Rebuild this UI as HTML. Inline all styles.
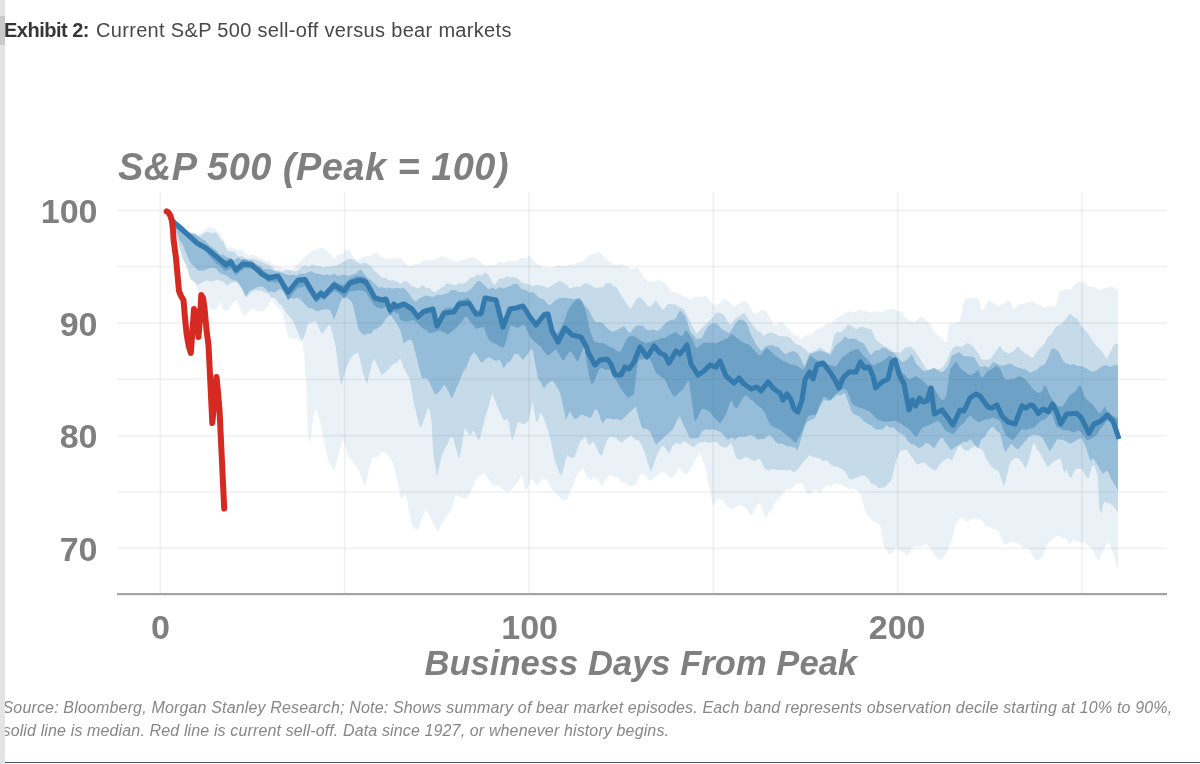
<!DOCTYPE html>
<html><head><meta charset="utf-8"><title>Exhibit 2</title>
<style>
html,body{margin:0;padding:0;background:#fff;}
body{width:1200px;height:764px;position:relative;overflow:hidden;font-family:"Liberation Sans",sans-serif;}
.abs{position:absolute;white-space:pre;line-height:1;}
#strip{z-index:5;position:absolute;left:0;top:0;width:4.5px;height:764px;background:#e3e4e4;}
#strip2{z-index:6;position:absolute;left:0;top:16px;width:4.5px;height:29px;background:#c9cacb;}
#bottom{position:absolute;left:4.5px;top:761.7px;width:1196px;height:1.3px;background:#4a5964;}
#chart{position:absolute;left:0;top:0;}
.hd{font-size:20px;top:20.2px;filter:blur(0.35px);}
.ax{font-weight:bold;font-size:34px;color:#7f7f7f;filter:blur(0.5px);}
.yl{width:97.5px;left:0;text-align:right;}
.ft{font-style:italic;font-size:16px;color:#878787;left:2.5px;letter-spacing:0.16px;filter:blur(0.35px);}
</style></head><body>
<div id="strip"></div><div id="strip2"></div>
<div class="abs hd" style="left:4px;font-weight:bold;color:#363636;letter-spacing:-0.5px;">Exhibit 2:</div>
<div class="abs hd" style="left:96px;color:#484848;letter-spacing:0.32px;">Current S&amp;P 500 sell-off versus bear markets</div>
<svg id="chart" width="1200" height="764" viewBox="0 0 1200 764">
<defs><filter id="soft" x="-2%" y="-2%" width="104%" height="104%"><feGaussianBlur stdDeviation="0.7"/></filter></defs>
<g filter="url(#soft)">
<path d="M172.0 220.1 L173.9 218.6 L175.7 220.5 L177.6 221.9 L179.4 222.9 L181.2 224.1 L183.1 225.5 L184.9 227.7 L186.8 230.0 L188.6 231.2 L190.4 232.2 L192.3 232.5 L194.1 232.7 L196.0 233.8 L197.8 234.5 L199.6 233.8 L201.5 232.9 L203.3 231.2 L205.2 229.8 L207.0 228.5 L208.8 227.5 L210.7 227.6 L212.5 227.7 L214.4 228.4 L216.2 230.5 L218.0 231.2 L219.9 232.7 L221.7 236.4 L223.6 240.1 L225.4 244.1 L227.2 248.0 L229.1 248.0 L230.9 246.7 L232.8 247.8 L234.6 248.9 L236.4 249.6 L238.3 250.3 L240.1 249.4 L242.0 249.8 L243.8 251.8 L245.6 253.9 L247.5 255.0 L249.3 256.0 L251.2 255.2 L253.0 254.3 L254.8 255.3 L256.7 256.4 L258.5 257.1 L260.4 258.0 L262.2 259.0 L264.0 259.9 L265.9 260.6 L267.7 261.4 L269.6 262.1 L271.4 262.7 L273.2 264.0 L275.1 265.3 L276.9 265.8 L278.8 266.4 L280.6 267.3 L282.4 268.3 L284.3 268.8 L286.1 268.9 L288.0 269.4 L289.8 269.4 L291.6 269.9 L293.5 268.5 L295.3 266.6 L297.2 264.2 L299.0 262.8 L300.8 261.4 L302.7 259.1 L304.5 256.9 L306.4 255.7 L308.2 254.5 L310.0 252.9 L311.9 251.2 L313.7 250.2 L315.6 250.2 L317.4 249.4 L319.2 248.5 L321.1 248.3 L322.9 248.1 L324.8 249.0 L326.6 251.3 L328.4 252.7 L330.3 254.0 L332.1 256.6 L334.0 259.3 L335.8 257.0 L337.6 254.6 L339.5 254.4 L341.3 254.1 L343.2 252.4 L345.0 250.7 L346.8 249.5 L348.7 249.7 L350.5 252.6 L352.4 255.4 L354.2 257.8 L356.0 260.1 L357.9 259.5 L359.7 259.0 L361.6 258.0 L363.4 256.9 L365.2 256.7 L367.1 256.0 L368.9 255.9 L370.8 255.8 L372.6 254.4 L374.4 253.0 L376.3 252.5 L378.1 254.0 L380.0 255.7 L381.8 257.3 L383.6 258.1 L385.5 258.9 L387.3 259.1 L389.2 258.4 L391.0 258.5 L392.8 258.6 L394.7 258.7 L396.5 258.9 L398.4 258.0 L400.2 257.3 L402.0 259.7 L403.9 262.2 L405.7 263.5 L407.6 264.7 L409.4 265.8 L411.2 265.8 L413.1 264.8 L414.9 263.8 L416.8 263.9 L418.6 264.1 L420.4 262.5 L422.3 260.9 L424.1 260.8 L426.0 260.6 L427.8 260.4 L429.6 260.3 L431.5 260.3 L433.3 260.3 L435.2 259.4 L437.0 258.6 L438.8 257.6 L440.7 256.6 L442.5 256.5 L444.4 256.7 L446.2 257.6 L448.0 258.5 L449.9 259.3 L451.7 260.2 L453.6 260.9 L455.4 261.6 L457.2 261.8 L459.1 261.4 L460.9 260.6 L462.8 259.9 L464.6 259.6 L466.4 259.3 L468.3 258.5 L470.1 257.8 L472.0 256.5 L473.8 257.2 L475.6 258.3 L477.5 259.4 L479.3 261.1 L481.2 262.8 L483.0 264.1 L484.8 265.5 L486.7 265.8 L488.5 265.1 L490.4 265.0 L492.2 264.9 L494.0 264.8 L495.9 264.8 L497.7 263.0 L499.6 261.3 L501.4 262.3 L503.2 263.3 L505.1 262.1 L506.9 260.8 L508.8 260.8 L510.6 260.8 L512.4 260.9 L514.3 261.1 L516.1 260.6 L518.0 260.1 L519.8 258.8 L521.6 257.5 L523.5 258.0 L525.3 258.4 L527.2 257.1 L529.0 255.8 L530.8 256.8 L532.7 258.8 L534.5 261.0 L536.4 263.3 L538.2 264.2 L540.0 265.1 L541.9 266.9 L543.7 267.3 L545.6 267.4 L547.4 267.5 L549.2 267.6 L551.1 267.7 L552.9 267.5 L554.8 267.4 L556.6 266.1 L558.4 264.8 L560.3 265.4 L562.1 266.0 L564.0 266.0 L565.8 266.0 L567.6 265.3 L569.5 264.6 L571.3 264.7 L573.2 264.6 L575.0 263.7 L576.8 262.9 L578.7 262.4 L580.5 261.8 L582.4 261.1 L584.2 260.3 L586.0 258.1 L587.9 255.9 L589.7 255.1 L591.6 254.4 L593.4 254.1 L595.2 253.9 L597.1 252.1 L598.9 251.7 L600.8 253.5 L602.6 255.3 L604.4 257.6 L606.3 259.8 L608.1 260.9 L610.0 261.9 L611.8 263.3 L613.6 264.6 L615.5 265.1 L617.3 265.6 L619.2 264.7 L621.0 263.7 L622.8 264.9 L624.7 266.0 L626.5 266.8 L628.4 267.6 L630.2 268.3 L632.0 269.0 L633.9 268.4 L635.7 267.7 L637.6 268.0 L639.4 269.6 L641.2 272.9 L643.1 276.1 L644.9 278.3 L646.8 280.5 L648.6 281.5 L650.4 281.9 L652.3 281.5 L654.1 281.2 L656.0 280.9 L657.8 280.6 L659.6 280.0 L661.5 281.6 L663.3 282.3 L665.2 283.1 L667.0 285.7 L668.8 288.4 L670.7 290.2 L672.5 291.7 L674.4 292.5 L676.2 293.3 L678.0 293.9 L679.9 294.5 L681.7 295.5 L683.6 295.9 L685.4 296.8 L687.2 297.6 L689.1 298.9 L690.9 299.9 L692.8 298.4 L694.6 297.0 L696.4 296.7 L698.3 296.4 L700.1 296.7 L702.0 297.1 L703.8 296.4 L705.6 295.6 L707.5 297.6 L709.3 300.0 L711.2 302.1 L713.0 304.2 L714.8 305.6 L716.7 304.9 L718.5 303.7 L720.4 302.5 L722.2 300.6 L724.0 298.8 L725.9 299.8 L727.7 300.8 L729.6 302.6 L731.4 304.4 L733.2 306.3 L735.1 306.3 L736.9 305.3 L738.8 304.2 L740.6 302.6 L742.4 301.1 L744.3 301.0 L746.1 302.1 L748.0 304.1 L749.8 306.1 L751.6 309.7 L753.5 313.4 L755.3 313.8 L757.2 313.3 L759.0 311.9 L760.8 310.6 L762.7 310.5 L764.5 310.4 L766.4 310.7 L768.2 314.6 L770.0 317.8 L771.9 321.1 L773.7 325.2 L775.6 325.8 L777.4 324.0 L779.2 322.2 L781.1 322.1 L782.9 323.2 L784.8 325.0 L786.6 326.9 L788.4 328.5 L790.3 330.0 L792.1 332.7 L794.0 335.5 L795.8 335.5 L797.6 335.6 L799.5 338.1 L801.3 339.0 L803.2 337.3 L805.0 335.6 L806.8 335.4 L808.7 335.1 L810.5 334.3 L812.4 333.2 L814.2 331.6 L816.0 330.0 L817.9 329.3 L819.7 328.6 L821.6 327.4 L823.4 326.4 L825.2 325.1 L827.1 323.9 L828.9 323.6 L830.8 323.4 L832.6 321.5 L834.4 319.6 L836.3 318.4 L838.1 317.3 L840.0 316.3 L841.8 315.3 L843.6 314.1 L845.5 313.0 L847.3 312.0 L849.2 311.3 L851.0 311.9 L852.8 312.6 L854.7 312.0 L856.5 311.4 L858.4 310.0 L860.2 309.3 L862.0 310.2 L863.9 311.1 L865.7 311.3 L867.6 311.5 L869.4 312.3 L871.2 312.6 L873.1 312.1 L874.9 311.5 L876.8 311.5 L878.6 311.6 L880.4 311.9 L882.3 312.3 L884.1 311.0 L886.0 309.6 L887.8 309.6 L889.6 309.6 L891.5 309.0 L893.3 308.5 L895.2 309.4 L897.0 310.9 L898.8 311.1 L900.7 311.3 L902.5 313.7 L904.4 316.1 L906.2 317.9 L908.0 319.7 L909.9 320.6 L911.7 321.5 L913.6 322.5 L915.4 320.9 L917.2 319.7 L919.1 318.5 L920.9 316.7 L922.8 316.6 L924.6 318.8 L926.4 321.1 L928.3 322.5 L930.1 324.0 L932.0 327.5 L933.8 330.9 L935.6 333.1 L937.5 335.2 L939.3 336.5 L941.2 337.8 L943.0 339.8 L944.8 341.6 L946.7 342.2 L948.5 326.3 L950.4 322.8 L952.2 324.0 L954.0 323.4 L955.9 322.8 L957.7 322.1 L959.6 321.5 L961.4 313.9 L963.2 304.0 L965.1 298.8 L966.9 297.8 L968.8 297.9 L970.6 297.9 L972.4 297.7 L974.3 297.5 L976.1 297.9 L978.0 298.4 L979.8 301.5 L981.6 309.9 L983.5 309.8 L985.3 307.1 L987.2 302.4 L989.0 300.6 L990.8 301.8 L992.7 303.1 L994.5 303.8 L996.4 304.6 L998.2 306.5 L1000.0 306.0 L1001.9 304.7 L1003.7 303.4 L1005.6 301.7 L1007.4 299.9 L1009.2 300.9 L1011.1 303.3 L1012.9 307.2 L1014.8 309.3 L1016.6 306.9 L1018.4 304.5 L1020.3 304.2 L1022.1 304.0 L1024.0 303.5 L1025.8 302.9 L1027.6 302.3 L1029.5 301.7 L1031.3 301.9 L1033.2 302.1 L1035.0 302.9 L1036.8 304.2 L1038.7 304.7 L1040.5 305.3 L1042.4 307.1 L1044.2 307.8 L1046.0 306.9 L1047.9 305.9 L1049.7 306.4 L1051.6 306.9 L1053.4 306.5 L1055.2 306.2 L1057.1 301.1 L1058.9 293.5 L1060.8 290.4 L1062.6 290.9 L1064.4 290.0 L1066.3 289.1 L1068.1 289.5 L1070.0 289.8 L1071.8 287.9 L1073.6 285.9 L1075.5 284.1 L1077.3 282.3 L1079.2 281.3 L1081.0 282.0 L1082.8 282.1 L1084.7 282.1 L1086.5 284.3 L1088.4 286.3 L1090.2 286.5 L1092.0 286.8 L1093.9 286.9 L1095.7 287.1 L1097.6 288.8 L1099.4 290.6 L1101.2 289.9 L1103.1 288.7 L1104.9 288.3 L1106.8 287.9 L1108.6 287.0 L1110.4 287.0 L1112.3 287.2 L1114.1 287.3 L1116.0 288.9 L1118.0 290.4 L1118.0 569.3 L1116.0 563.3 L1114.1 556.5 L1112.3 551.4 L1110.4 546.5 L1108.6 542.1 L1106.8 544.0 L1104.9 547.2 L1103.1 550.5 L1101.2 555.1 L1099.4 559.7 L1097.6 560.1 L1095.7 556.2 L1093.9 552.6 L1092.0 549.0 L1090.2 546.8 L1088.4 545.9 L1086.5 544.0 L1084.7 542.0 L1082.8 542.4 L1081.0 542.9 L1079.2 542.2 L1077.3 541.5 L1075.5 539.9 L1073.6 539.3 L1071.8 541.7 L1070.0 544.0 L1068.1 541.6 L1066.3 539.1 L1064.4 538.7 L1062.6 538.6 L1060.8 537.0 L1058.9 535.4 L1057.1 535.7 L1055.2 536.9 L1053.4 538.8 L1051.6 540.7 L1049.7 541.5 L1047.9 542.4 L1046.0 547.7 L1044.2 553.0 L1042.4 557.0 L1040.5 559.0 L1038.7 559.6 L1036.8 560.2 L1035.0 559.4 L1033.2 557.0 L1031.3 553.3 L1029.5 549.7 L1027.6 548.5 L1025.8 548.3 L1024.0 547.7 L1022.1 547.1 L1020.3 545.2 L1018.4 543.3 L1016.6 542.9 L1014.8 542.7 L1012.9 542.1 L1011.1 541.6 L1009.2 542.1 L1007.4 544.2 L1005.6 544.6 L1003.7 543.8 L1001.9 539.2 L1000.0 534.5 L998.2 529.9 L996.4 529.3 L994.5 529.0 L992.7 528.7 L990.8 527.6 L989.0 526.5 L987.2 526.4 L985.3 525.4 L983.5 522.8 L981.6 520.2 L979.8 518.7 L978.0 519.8 L976.1 519.0 L974.3 518.2 L972.4 519.1 L970.6 519.6 L968.8 520.8 L966.9 522.0 L965.1 520.0 L963.2 518.0 L961.4 518.1 L959.6 518.6 L957.7 521.4 L955.9 524.5 L954.0 531.4 L952.2 538.2 L950.4 543.3 L948.5 548.0 L946.7 552.0 L944.8 554.9 L943.0 557.2 L941.2 559.6 L939.3 559.8 L937.5 558.6 L935.6 556.0 L933.8 553.4 L932.0 551.0 L930.1 548.6 L928.3 544.8 L926.4 543.9 L924.6 544.6 L922.8 545.4 L920.9 546.2 L919.1 547.1 L917.2 546.2 L915.4 545.7 L913.6 546.9 L911.7 548.1 L909.9 551.6 L908.0 555.0 L906.2 555.0 L904.4 552.4 L902.5 552.1 L900.7 551.8 L898.8 549.2 L897.0 546.6 L895.2 547.7 L893.3 550.9 L891.5 553.4 L889.6 554.7 L887.8 552.2 L886.0 549.6 L884.1 547.5 L882.3 537.7 L880.4 526.8 L878.6 523.7 L876.8 523.0 L874.9 522.3 L873.1 521.3 L871.2 519.6 L869.4 517.5 L867.6 515.5 L865.7 510.8 L863.9 505.8 L862.0 499.6 L860.2 493.4 L858.4 491.4 L856.5 490.0 L854.7 489.1 L852.8 488.1 L851.0 488.9 L849.2 489.6 L847.3 488.1 L845.5 486.7 L843.6 486.1 L841.8 485.5 L840.0 484.3 L838.1 484.4 L836.3 483.7 L834.4 482.9 L832.6 484.9 L830.8 486.9 L828.9 485.7 L827.1 484.9 L825.2 486.7 L823.4 488.5 L821.6 491.1 L819.7 493.3 L817.9 491.4 L816.0 489.5 L814.2 489.6 L812.4 492.2 L810.5 493.6 L808.7 495.1 L806.8 493.4 L805.0 489.3 L803.2 485.3 L801.3 483.2 L799.5 483.0 L797.6 482.7 L795.8 484.7 L794.0 486.6 L792.1 487.9 L790.3 489.2 L788.4 488.9 L786.6 489.5 L784.8 491.4 L782.9 493.2 L781.1 495.8 L779.2 498.3 L777.4 499.7 L775.6 501.1 L773.7 505.1 L771.9 510.4 L770.0 512.1 L768.2 513.7 L766.4 518.3 L764.5 515.4 L762.7 510.2 L760.8 505.0 L759.0 502.9 L757.2 504.7 L755.3 508.7 L753.5 512.8 L751.6 515.2 L749.8 514.4 L748.0 511.3 L746.1 508.2 L744.3 507.1 L742.4 505.9 L740.6 504.9 L738.8 505.3 L736.9 506.2 L735.1 507.1 L733.2 508.5 L731.4 508.9 L729.6 508.3 L727.7 507.8 L725.9 504.4 L724.0 501.0 L722.2 500.3 L720.4 499.6 L718.5 499.6 L716.7 500.3 L714.8 503.1 L713.0 506.0 L711.2 496.7 L709.3 487.3 L707.5 478.0 L705.6 469.3 L703.8 463.6 L702.0 457.9 L700.1 452.4 L698.3 455.0 L696.4 457.9 L694.6 460.8 L692.8 464.7 L690.9 468.4 L689.1 471.1 L687.2 473.8 L685.4 474.5 L683.6 472.8 L681.7 470.6 L679.9 468.3 L678.0 468.7 L676.2 473.5 L674.4 475.6 L672.5 477.7 L670.7 477.9 L668.8 476.6 L667.0 474.2 L665.2 473.1 L663.3 472.7 L661.5 472.3 L659.6 473.4 L657.8 474.7 L656.0 476.0 L654.1 477.3 L652.3 479.2 L650.4 481.1 L648.6 479.6 L646.8 477.1 L644.9 475.7 L643.1 474.2 L641.2 473.4 L639.4 475.5 L637.6 480.0 L635.7 484.5 L633.9 485.4 L632.0 486.2 L630.2 486.1 L628.4 486.0 L626.5 484.3 L624.7 482.6 L622.8 482.5 L621.0 482.4 L619.2 479.5 L617.3 476.8 L615.5 476.7 L613.6 476.6 L611.8 475.5 L610.0 474.4 L608.1 476.4 L606.3 478.5 L604.4 482.3 L602.6 486.2 L600.8 484.7 L598.9 481.4 L597.1 479.4 L595.2 477.3 L593.4 477.5 L591.6 479.8 L589.7 479.4 L587.9 478.9 L586.0 474.7 L584.2 470.6 L582.4 468.0 L580.5 470.2 L578.7 472.8 L576.8 475.5 L575.0 479.7 L573.2 485.0 L571.3 488.9 L569.5 492.9 L567.6 498.7 L565.8 500.5 L564.0 500.1 L562.1 499.6 L560.3 497.8 L558.4 495.7 L556.6 493.7 L554.8 491.6 L552.9 489.9 L551.1 488.1 L549.2 484.5 L547.4 481.0 L545.6 478.9 L543.7 477.5 L541.9 479.5 L540.0 481.5 L538.2 484.8 L536.4 484.9 L534.5 482.4 L532.7 479.9 L530.8 479.3 L529.0 483.0 L527.2 489.4 L525.3 490.5 L523.5 481.0 L521.6 473.7 L519.8 478.1 L518.0 482.5 L516.1 484.2 L514.3 485.8 L512.4 488.6 L510.6 490.9 L508.8 491.2 L506.9 491.6 L505.1 491.1 L503.2 489.6 L501.4 487.4 L499.6 485.8 L497.7 485.6 L495.9 485.5 L494.0 486.7 L492.2 484.2 L490.4 481.6 L488.5 479.3 L486.7 476.8 L484.8 474.3 L483.0 472.7 L481.2 475.3 L479.3 476.8 L477.5 478.3 L475.6 480.6 L473.8 484.9 L472.0 489.1 L470.1 493.3 L468.3 495.7 L466.4 497.9 L464.6 498.9 L462.8 498.1 L460.9 497.4 L459.1 496.7 L457.2 495.3 L455.4 495.7 L453.6 502.4 L451.7 509.1 L449.9 512.3 L448.0 513.2 L446.2 516.7 L444.4 520.3 L442.5 522.7 L440.7 525.5 L438.8 530.5 L437.0 531.5 L435.2 527.3 L433.3 523.1 L431.5 519.7 L429.6 516.1 L427.8 512.8 L426.0 509.8 L424.1 513.8 L422.3 517.8 L420.4 523.6 L418.6 529.3 L416.8 530.0 L414.9 528.5 L413.1 526.8 L411.2 522.0 L409.4 512.4 L407.6 502.7 L405.7 495.1 L403.9 495.8 L402.0 499.1 L400.2 496.2 L398.4 486.6 L396.5 477.0 L394.7 469.7 L392.8 463.3 L391.0 459.2 L389.2 457.3 L387.3 454.8 L385.5 452.3 L383.6 451.9 L381.8 452.0 L380.0 454.2 L378.1 456.4 L376.3 457.1 L374.4 457.5 L372.6 457.0 L370.8 462.2 L368.9 470.0 L367.1 477.7 L365.2 486.0 L363.4 483.5 L361.6 477.9 L359.7 472.3 L357.9 469.2 L356.0 466.0 L354.2 463.2 L352.4 460.6 L350.5 458.5 L348.7 456.5 L346.8 451.8 L345.0 445.2 L343.2 438.6 L341.3 443.8 L339.5 451.1 L337.6 458.3 L335.8 465.2 L334.0 471.9 L332.1 467.8 L330.3 463.7 L328.4 460.9 L326.6 453.6 L324.8 444.2 L322.9 434.9 L321.1 426.0 L319.2 418.6 L317.4 413.5 L315.6 408.4 L313.7 415.3 L311.9 428.4 L310.0 443.9 L308.2 434.1 L306.4 389.0 L304.5 360.1 L302.7 341.6 L300.8 342.6 L299.0 340.3 L297.2 338.0 L295.3 338.9 L293.5 339.4 L291.6 338.6 L289.8 337.7 L288.0 336.5 L286.1 329.1 L284.3 320.7 L282.4 312.4 L280.6 309.8 L278.8 308.5 L276.9 306.6 L275.1 304.7 L273.2 301.1 L271.4 299.0 L269.6 302.9 L267.7 306.9 L265.9 308.8 L264.0 310.8 L262.2 312.1 L260.4 310.6 L258.5 310.7 L256.7 310.9 L254.8 309.7 L253.0 308.5 L251.2 308.8 L249.3 311.0 L247.5 313.4 L245.6 315.8 L243.8 316.5 L242.0 311.9 L240.1 308.1 L238.3 304.4 L236.4 300.3 L234.6 300.7 L232.8 303.4 L230.9 306.0 L229.1 307.9 L227.2 309.9 L225.4 311.3 L223.6 309.7 L221.7 305.7 L219.9 302.0 L218.0 305.5 L216.2 309.0 L214.4 309.4 L212.5 309.9 L210.7 307.7 L208.8 304.5 L207.0 303.1 L205.2 301.8 L203.3 298.8 L201.5 295.8 L199.6 293.2 L197.8 289.9 L196.0 285.8 L194.1 282.2 L192.3 280.7 L190.4 279.2 L188.6 273.5 L186.8 266.8 L184.9 263.1 L183.1 259.4 L181.2 254.0 L179.4 247.7 L177.6 238.7 L175.7 230.6 L173.9 225.9 L172.0 220.1Z" fill="#eaf1f7"/>
<path d="M172.0 220.1 L173.9 219.1 L175.7 221.0 L177.6 222.4 L179.4 223.4 L181.2 224.6 L183.1 226.0 L184.9 228.2 L186.8 230.5 L188.6 231.8 L190.4 232.7 L192.3 233.0 L194.1 233.2 L196.0 234.3 L197.8 235.4 L199.6 236.5 L201.5 235.0 L203.3 233.6 L205.2 232.3 L207.0 232.0 L208.8 232.0 L210.7 232.7 L212.5 233.5 L214.4 232.4 L216.2 232.7 L218.0 235.1 L219.9 238.3 L221.7 240.2 L223.6 242.1 L225.4 246.3 L227.2 250.3 L229.1 251.3 L230.9 251.6 L232.8 251.7 L234.6 251.8 L236.4 254.2 L238.3 256.5 L240.1 256.5 L242.0 256.1 L243.8 257.3 L245.6 258.4 L247.5 258.7 L249.3 258.9 L251.2 258.7 L253.0 258.6 L254.8 259.2 L256.7 259.7 L258.5 260.4 L260.4 261.1 L262.2 262.0 L264.0 262.9 L265.9 263.7 L267.7 264.4 L269.6 265.3 L271.4 266.3 L273.2 268.6 L275.1 270.8 L276.9 270.5 L278.8 270.1 L280.6 271.3 L282.4 271.7 L284.3 270.9 L286.1 270.0 L288.0 269.9 L289.8 269.9 L291.6 270.5 L293.5 271.2 L295.3 271.2 L297.2 270.9 L299.0 269.5 L300.8 268.0 L302.7 266.5 L304.5 265.0 L306.4 266.0 L308.2 267.6 L310.0 266.1 L311.9 264.6 L313.7 265.1 L315.6 265.6 L317.4 265.9 L319.2 266.1 L321.1 266.7 L322.9 267.3 L324.8 267.1 L326.6 267.0 L328.4 266.7 L330.3 266.4 L332.1 266.0 L334.0 265.7 L335.8 265.3 L337.6 265.0 L339.5 264.0 L341.3 263.0 L343.2 262.0 L345.0 260.9 L346.8 259.6 L348.7 259.0 L350.5 259.0 L352.4 258.9 L354.2 260.1 L356.0 261.4 L357.9 262.6 L359.7 263.8 L361.6 263.5 L363.4 262.9 L365.2 262.8 L367.1 264.1 L368.9 265.0 L370.8 265.9 L372.6 268.4 L374.4 271.0 L376.3 272.3 L378.1 273.7 L380.0 276.2 L381.8 277.8 L383.6 277.8 L385.5 277.8 L387.3 279.1 L389.2 280.5 L391.0 280.5 L392.8 280.2 L394.7 280.7 L396.5 281.2 L398.4 282.6 L400.2 284.1 L402.0 283.4 L403.9 281.3 L405.7 281.1 L407.6 282.0 L409.4 283.8 L411.2 285.5 L413.1 287.1 L414.9 287.2 L416.8 287.9 L418.6 288.6 L420.4 286.8 L422.3 285.1 L424.1 285.9 L426.0 288.2 L427.8 288.0 L429.6 287.7 L431.5 289.9 L433.3 292.0 L435.2 292.3 L437.0 290.9 L438.8 289.4 L440.7 287.8 L442.5 287.0 L444.4 286.1 L446.2 283.7 L448.0 283.3 L449.9 283.9 L451.7 284.5 L453.6 284.9 L455.4 285.3 L457.2 284.6 L459.1 283.2 L460.9 283.5 L462.8 283.7 L464.6 282.9 L466.4 282.1 L468.3 280.0 L470.1 277.8 L472.0 277.5 L473.8 277.2 L475.6 275.9 L477.5 274.6 L479.3 274.9 L481.2 275.5 L483.0 274.1 L484.8 272.8 L486.7 273.4 L488.5 274.9 L490.4 278.4 L492.2 281.9 L494.0 284.8 L495.9 283.3 L497.7 281.0 L499.6 278.6 L501.4 278.4 L503.2 278.8 L505.1 277.5 L506.9 276.2 L508.8 276.7 L510.6 277.3 L512.4 276.8 L514.3 277.4 L516.1 278.0 L518.0 278.6 L519.8 280.7 L521.6 282.2 L523.5 282.9 L525.3 283.5 L527.2 283.9 L529.0 284.2 L530.8 285.2 L532.7 286.1 L534.5 285.5 L536.4 284.7 L538.2 285.1 L540.0 285.4 L541.9 285.7 L543.7 286.0 L545.6 287.0 L547.4 288.0 L549.2 287.2 L551.1 285.9 L552.9 284.7 L554.8 283.6 L556.6 282.7 L558.4 281.8 L560.3 280.8 L562.1 282.0 L564.0 283.0 L565.8 284.1 L567.6 286.3 L569.5 288.5 L571.3 288.2 L573.2 287.2 L575.0 286.9 L576.8 286.6 L578.7 286.7 L580.5 286.9 L582.4 285.1 L584.2 283.2 L586.0 283.4 L587.9 283.5 L589.7 284.7 L591.6 286.1 L593.4 286.9 L595.2 287.7 L597.1 288.1 L598.9 287.4 L600.8 287.3 L602.6 287.2 L604.4 285.3 L606.3 283.4 L608.1 283.0 L610.0 282.7 L611.8 284.5 L613.6 286.3 L615.5 287.1 L617.3 288.0 L619.2 291.5 L621.0 295.6 L622.8 298.1 L624.7 300.5 L626.5 303.4 L628.4 306.3 L630.2 309.1 L632.0 306.7 L633.9 303.6 L635.7 300.5 L637.6 298.3 L639.4 297.1 L641.2 298.2 L643.1 299.4 L644.9 302.2 L646.8 305.1 L648.6 306.4 L650.4 306.7 L652.3 304.4 L654.1 302.1 L656.0 300.5 L657.8 302.9 L659.6 305.7 L661.5 308.5 L663.3 309.8 L665.2 307.8 L667.0 305.5 L668.8 304.1 L670.7 304.2 L672.5 304.3 L674.4 304.6 L676.2 305.0 L678.0 306.2 L679.9 307.5 L681.7 308.1 L683.6 308.8 L685.4 312.1 L687.2 315.4 L689.1 318.9 L690.9 323.4 L692.8 327.0 L694.6 330.6 L696.4 333.8 L698.3 331.8 L700.1 329.9 L702.0 328.1 L703.8 326.2 L705.6 324.4 L707.5 322.7 L709.3 321.1 L711.2 319.3 L713.0 317.6 L714.8 314.6 L716.7 312.5 L718.5 312.8 L720.4 313.1 L722.2 314.0 L724.0 315.0 L725.9 318.2 L727.7 321.4 L729.6 324.6 L731.4 324.1 L733.2 321.4 L735.1 318.7 L736.9 317.7 L738.8 316.7 L740.6 315.3 L742.4 313.9 L744.3 312.8 L746.1 315.5 L748.0 318.3 L749.8 321.1 L751.6 323.8 L753.5 326.1 L755.3 328.4 L757.2 330.7 L759.0 331.4 L760.8 332.2 L762.7 334.8 L764.5 335.7 L766.4 334.2 L768.2 332.7 L770.0 332.4 L771.9 332.8 L773.7 333.4 L775.6 334.0 L777.4 335.1 L779.2 336.3 L781.1 336.2 L782.9 336.2 L784.8 336.4 L786.6 336.5 L788.4 337.1 L790.3 337.8 L792.1 340.1 L794.0 342.5 L795.8 343.8 L797.6 345.1 L799.5 345.5 L801.3 345.9 L803.2 347.5 L805.0 349.2 L806.8 350.9 L808.7 352.5 L810.5 352.8 L812.4 351.7 L814.2 351.1 L816.0 350.6 L817.9 348.9 L819.7 347.3 L821.6 348.3 L823.4 349.6 L825.2 350.9 L827.1 352.2 L828.9 352.8 L830.8 350.4 L832.6 342.6 L834.4 334.7 L836.3 332.5 L838.1 332.2 L840.0 332.0 L841.8 331.8 L843.6 329.9 L845.5 327.8 L847.3 325.0 L849.2 324.5 L851.0 325.7 L852.8 326.8 L854.7 328.4 L856.5 329.2 L858.4 328.1 L860.2 327.0 L862.0 327.1 L863.9 327.2 L865.7 327.8 L867.6 328.4 L869.4 328.9 L871.2 329.3 L873.1 332.9 L874.9 337.9 L876.8 340.9 L878.6 342.0 L880.4 343.4 L882.3 344.8 L884.1 345.9 L886.0 346.6 L887.8 347.7 L889.6 348.8 L891.5 350.5 L893.3 351.9 L895.2 352.0 L897.0 352.2 L898.8 352.7 L900.7 352.6 L902.5 350.4 L904.4 348.2 L906.2 347.7 L908.0 347.2 L909.9 345.9 L911.7 347.7 L913.6 349.6 L915.4 351.4 L917.2 354.2 L919.1 357.6 L920.9 360.3 L922.8 363.0 L924.6 366.4 L926.4 369.0 L928.3 369.5 L930.1 369.3 L932.0 368.5 L933.8 367.7 L935.6 368.5 L937.5 369.5 L939.3 369.0 L941.2 368.4 L943.0 367.1 L944.8 364.2 L946.7 360.9 L948.5 357.2 L950.4 352.7 L952.2 348.6 L954.0 347.4 L955.9 346.1 L957.7 346.3 L959.6 347.1 L961.4 346.5 L963.2 346.0 L965.1 344.4 L966.9 343.3 L968.8 343.8 L970.6 344.4 L972.4 346.0 L974.3 348.0 L976.1 350.6 L978.0 353.2 L979.8 356.1 L981.6 358.9 L983.5 359.7 L985.3 359.9 L987.2 359.6 L989.0 359.3 L990.8 358.4 L992.7 355.8 L994.5 353.0 L996.4 350.4 L998.2 348.2 L1000.0 346.1 L1001.9 348.7 L1003.7 351.2 L1005.6 352.1 L1007.4 353.1 L1009.2 353.4 L1011.1 352.4 L1012.9 351.3 L1014.8 350.1 L1016.6 347.0 L1018.4 347.0 L1020.3 349.0 L1022.1 351.0 L1024.0 352.5 L1025.8 354.0 L1027.6 354.7 L1029.5 355.5 L1031.3 357.7 L1033.2 357.3 L1035.0 354.4 L1036.8 351.6 L1038.7 349.5 L1040.5 347.3 L1042.4 345.8 L1044.2 344.3 L1046.0 340.7 L1047.9 336.8 L1049.7 335.7 L1051.6 334.5 L1053.4 330.8 L1055.2 327.7 L1057.1 326.5 L1058.9 325.3 L1060.8 323.9 L1062.6 322.4 L1064.4 320.5 L1066.3 318.6 L1068.1 316.1 L1070.0 313.6 L1071.8 315.1 L1073.6 316.7 L1075.5 317.9 L1077.3 319.1 L1079.2 322.0 L1081.0 325.4 L1082.8 327.7 L1084.7 330.0 L1086.5 331.9 L1088.4 333.8 L1090.2 336.9 L1092.0 340.0 L1093.9 342.5 L1095.7 345.0 L1097.6 346.9 L1099.4 348.7 L1101.2 350.9 L1103.1 352.9 L1104.9 356.2 L1106.8 359.2 L1108.6 355.5 L1110.4 351.7 L1112.3 348.1 L1114.1 344.8 L1116.0 343.6 L1118.0 344.5 L1118.0 512.3 L1116.0 509.5 L1114.1 506.9 L1112.3 505.2 L1110.4 503.5 L1108.6 503.2 L1106.8 503.0 L1104.9 501.2 L1103.1 504.7 L1101.2 514.4 L1099.4 507.9 L1097.6 474.9 L1095.7 469.4 L1093.9 465.0 L1092.0 466.3 L1090.2 472.5 L1088.4 478.7 L1086.5 477.4 L1084.7 474.1 L1082.8 470.6 L1081.0 468.8 L1079.2 468.8 L1077.3 468.8 L1075.5 468.9 L1073.6 472.0 L1071.8 476.9 L1070.0 477.5 L1068.1 473.4 L1066.3 469.3 L1064.4 473.1 L1062.6 467.0 L1060.8 458.9 L1058.9 458.3 L1057.1 460.1 L1055.2 460.8 L1053.4 462.1 L1051.6 463.3 L1049.7 465.6 L1047.9 467.7 L1046.0 464.5 L1044.2 461.2 L1042.4 457.5 L1040.5 453.7 L1038.7 451.3 L1036.8 448.9 L1035.0 444.1 L1033.2 443.6 L1031.3 450.5 L1029.5 457.4 L1027.6 463.6 L1025.8 468.9 L1024.0 465.7 L1022.1 462.5 L1020.3 460.4 L1018.4 458.3 L1016.6 457.7 L1014.8 458.0 L1012.9 459.5 L1011.1 461.1 L1009.2 465.2 L1007.4 473.2 L1005.6 480.7 L1003.7 486.4 L1001.9 480.5 L1000.0 474.7 L998.2 470.7 L996.4 470.6 L994.5 468.9 L992.7 467.2 L990.8 466.1 L989.0 463.3 L987.2 460.1 L985.3 456.9 L983.5 451.8 L981.6 449.1 L979.8 448.2 L978.0 448.6 L976.1 446.6 L974.3 446.5 L972.4 447.7 L970.6 448.9 L968.8 450.4 L966.9 451.1 L965.1 450.2 L963.2 449.3 L961.4 446.6 L959.6 445.1 L957.7 448.2 L955.9 451.4 L954.0 455.8 L952.2 460.2 L950.4 459.5 L948.5 458.1 L946.7 458.7 L944.8 460.2 L943.0 461.6 L941.2 463.0 L939.3 465.3 L937.5 468.6 L935.6 470.8 L933.8 469.7 L932.0 468.8 L930.1 468.0 L928.3 466.2 L926.4 464.3 L924.6 462.2 L922.8 462.6 L920.9 463.3 L919.1 464.1 L917.2 464.4 L915.4 462.5 L913.6 459.8 L911.7 457.1 L909.9 454.3 L908.0 451.4 L906.2 449.0 L904.4 450.5 L902.5 450.3 L900.7 450.0 L898.8 453.8 L897.0 458.3 L895.2 463.9 L893.3 472.6 L891.5 479.9 L889.6 482.0 L887.8 483.9 L886.0 485.8 L884.1 487.7 L882.3 487.4 L880.4 487.8 L878.6 488.2 L876.8 486.3 L874.9 484.4 L873.1 484.2 L871.2 483.5 L869.4 480.5 L867.6 477.5 L865.7 476.5 L863.9 475.4 L862.0 475.8 L860.2 476.3 L858.4 476.9 L856.5 477.7 L854.7 478.3 L852.8 478.8 L851.0 479.6 L849.2 478.9 L847.3 475.3 L845.5 471.8 L843.6 469.9 L841.8 469.0 L840.0 468.0 L838.1 467.1 L836.3 466.7 L834.4 466.3 L832.6 465.9 L830.8 464.6 L828.9 462.4 L827.1 460.3 L825.2 460.2 L823.4 461.5 L821.6 459.8 L819.7 458.2 L817.9 458.4 L816.0 457.3 L814.2 457.1 L812.4 456.9 L810.5 455.2 L808.7 455.8 L806.8 457.9 L805.0 460.0 L803.2 462.2 L801.3 464.4 L799.5 467.3 L797.6 469.8 L795.8 470.9 L794.0 472.0 L792.1 471.6 L790.3 469.3 L788.4 469.9 L786.6 470.6 L784.8 470.3 L782.9 470.1 L781.1 469.8 L779.2 470.3 L777.4 469.9 L775.6 469.5 L773.7 469.6 L771.9 468.7 L770.0 469.7 L768.2 470.6 L766.4 469.2 L764.5 467.9 L762.7 464.7 L760.8 460.3 L759.0 458.8 L757.2 459.7 L755.3 460.5 L753.5 460.8 L751.6 459.9 L749.8 458.9 L748.0 457.7 L746.1 456.5 L744.3 457.8 L742.4 459.3 L740.6 459.4 L738.8 459.4 L736.9 458.7 L735.1 455.2 L733.2 447.9 L731.4 442.9 L729.6 444.8 L727.7 446.6 L725.9 448.0 L724.0 447.1 L722.2 446.7 L720.4 446.2 L718.5 444.1 L716.7 442.1 L714.8 442.0 L713.0 441.9 L711.2 442.5 L709.3 442.9 L707.5 442.3 L705.6 441.8 L703.8 442.3 L702.0 442.8 L700.1 441.9 L698.3 443.0 L696.4 444.9 L694.6 446.8 L692.8 447.1 L690.9 445.6 L689.1 444.3 L687.2 443.1 L685.4 441.8 L683.6 441.5 L681.7 442.8 L679.9 444.2 L678.0 443.5 L676.2 442.8 L674.4 444.3 L672.5 446.1 L670.7 450.2 L668.8 453.8 L667.0 450.7 L665.2 447.7 L663.3 445.7 L661.5 446.7 L659.6 449.7 L657.8 453.1 L656.0 457.7 L654.1 462.2 L652.3 468.6 L650.4 471.5 L648.6 465.1 L646.8 458.7 L644.9 453.1 L643.1 448.6 L641.2 445.0 L639.4 441.3 L637.6 440.0 L635.7 440.4 L633.9 438.3 L632.0 436.2 L630.2 435.1 L628.4 437.5 L626.5 438.7 L624.7 439.8 L622.8 442.5 L621.0 442.3 L619.2 440.9 L617.3 439.6 L615.5 437.2 L613.6 437.2 L611.8 436.8 L610.0 436.4 L608.1 438.9 L606.3 441.4 L604.4 447.3 L602.6 454.3 L600.8 455.6 L598.9 452.7 L597.1 448.8 L595.2 444.9 L593.4 441.4 L591.6 442.5 L589.7 445.1 L587.9 442.8 L586.0 437.0 L584.2 437.8 L582.4 439.4 L580.5 441.0 L578.7 445.1 L576.8 450.4 L575.0 455.9 L573.2 458.1 L571.3 457.6 L569.5 457.1 L567.6 455.0 L565.8 459.4 L564.0 466.4 L562.1 473.4 L560.3 475.2 L558.4 469.9 L556.6 465.3 L554.8 460.7 L552.9 451.6 L551.1 441.5 L549.2 434.3 L547.4 428.7 L545.6 423.2 L543.7 417.7 L541.9 415.1 L540.0 412.4 L538.2 420.7 L536.4 422.0 L534.5 411.7 L532.7 401.4 L530.8 410.0 L529.0 419.3 L527.2 421.6 L525.3 424.0 L523.5 423.8 L521.6 423.6 L519.8 422.8 L518.0 422.1 L516.1 428.3 L514.3 434.5 L512.4 440.4 L510.6 433.6 L508.8 421.8 L506.9 418.3 L505.1 420.4 L503.2 419.7 L501.4 415.6 L499.6 411.5 L497.7 407.5 L495.9 402.4 L494.0 398.1 L492.2 393.7 L490.4 399.6 L488.5 406.9 L486.7 412.8 L484.8 418.7 L483.0 426.2 L481.2 433.6 L479.3 440.2 L477.5 438.2 L475.6 433.9 L473.8 430.3 L472.0 433.2 L470.1 436.1 L468.3 433.0 L466.4 429.6 L464.6 429.5 L462.8 439.4 L460.9 449.5 L459.1 459.6 L457.2 453.1 L455.4 445.8 L453.6 438.9 L451.7 436.9 L449.9 437.7 L448.0 443.3 L446.2 446.3 L444.4 449.3 L442.5 453.2 L440.7 460.0 L438.8 468.3 L437.0 476.6 L435.2 465.0 L433.3 453.4 L431.5 421.4 L429.6 409.6 L427.8 408.0 L426.0 413.7 L424.1 419.2 L422.3 424.8 L420.4 427.9 L418.6 422.7 L416.8 415.4 L414.9 408.1 L413.1 398.8 L411.2 386.8 L409.4 378.2 L407.6 375.2 L405.7 371.8 L403.9 368.5 L402.0 363.5 L400.2 358.5 L398.4 360.4 L396.5 362.8 L394.7 363.5 L392.8 364.2 L391.0 366.3 L389.2 368.6 L387.3 370.3 L385.5 372.0 L383.6 373.8 L381.8 374.9 L380.0 371.2 L378.1 367.4 L376.3 363.1 L374.4 358.9 L372.6 362.3 L370.8 368.3 L368.9 376.3 L367.1 384.3 L365.2 379.3 L363.4 373.7 L361.6 366.1 L359.7 358.6 L357.9 352.8 L356.0 353.3 L354.2 354.5 L352.4 355.7 L350.5 358.9 L348.7 362.6 L346.8 366.1 L345.0 371.9 L343.2 378.7 L341.3 385.5 L339.5 375.4 L337.6 361.6 L335.8 347.2 L334.0 338.7 L332.1 331.9 L330.3 325.0 L328.4 325.8 L326.6 328.1 L324.8 330.8 L322.9 333.5 L321.1 332.7 L319.2 328.2 L317.4 324.2 L315.6 321.5 L313.7 321.8 L311.9 322.0 L310.0 322.7 L308.2 323.4 L306.4 329.1 L304.5 335.3 L302.7 340.0 L300.8 339.4 L299.0 334.9 L297.2 330.4 L295.3 326.2 L293.5 322.0 L291.6 319.0 L289.8 316.7 L288.0 314.7 L286.1 312.6 L284.3 309.4 L282.4 306.2 L280.6 304.5 L278.8 303.0 L276.9 300.6 L275.1 298.1 L273.2 297.7 L271.4 297.7 L269.6 295.6 L267.7 293.5 L265.9 292.8 L264.0 292.1 L262.2 291.2 L260.4 290.2 L258.5 290.4 L256.7 290.6 L254.8 289.9 L253.0 291.3 L251.2 292.7 L249.3 294.1 L247.5 296.6 L245.6 297.7 L243.8 292.9 L242.0 288.9 L240.1 286.0 L238.3 283.2 L236.4 281.9 L234.6 281.9 L232.8 282.3 L230.9 282.7 L229.1 284.4 L227.2 285.7 L225.4 283.8 L223.6 281.9 L221.7 281.2 L219.9 280.5 L218.0 280.1 L216.2 279.7 L214.4 280.6 L212.5 281.5 L210.7 281.2 L208.8 280.9 L207.0 280.5 L205.2 280.7 L203.3 281.7 L201.5 282.8 L199.6 283.9 L197.8 284.8 L196.0 283.3 L194.1 281.7 L192.3 280.2 L190.4 278.7 L188.6 273.0 L186.8 266.3 L184.9 262.6 L183.1 258.9 L181.2 253.5 L179.4 247.2 L177.6 238.2 L175.7 230.1 L173.9 225.4 L172.0 220.1Z" fill="#c5dbe9"/>
<path d="M172.0 220.1 L173.9 219.6 L175.7 221.5 L177.6 222.9 L179.4 223.9 L181.2 225.1 L183.1 226.5 L184.9 228.7 L186.8 231.0 L188.6 232.3 L190.4 233.3 L192.3 233.5 L194.1 233.7 L196.0 234.8 L197.8 235.9 L199.6 237.1 L201.5 239.0 L203.3 239.7 L205.2 240.3 L207.0 242.7 L208.8 245.1 L210.7 246.3 L212.5 247.5 L214.4 248.9 L216.2 250.3 L218.0 252.2 L219.9 254.2 L221.7 254.4 L223.6 254.6 L225.4 256.3 L227.2 257.1 L229.1 258.2 L230.9 257.7 L232.8 259.8 L234.6 259.9 L236.4 258.7 L238.3 257.5 L240.1 258.8 L242.0 259.5 L243.8 258.9 L245.6 259.3 L247.5 259.9 L249.3 260.4 L251.2 260.6 L253.0 261.7 L254.8 263.2 L256.7 264.2 L258.5 265.0 L260.4 265.8 L262.2 267.4 L264.0 268.9 L265.9 268.9 L267.7 268.9 L269.6 269.1 L271.4 269.4 L273.2 270.3 L275.1 271.3 L276.9 271.6 L278.8 271.9 L280.6 272.5 L282.4 272.8 L284.3 273.7 L286.1 274.5 L288.0 274.9 L289.8 275.3 L291.6 275.1 L293.5 274.9 L295.3 275.3 L297.2 275.3 L299.0 274.3 L300.8 273.3 L302.7 273.7 L304.5 274.1 L306.4 273.1 L308.2 272.2 L310.0 271.3 L311.9 271.5 L313.7 272.5 L315.6 273.6 L317.4 273.6 L319.2 273.7 L321.1 274.4 L322.9 275.0 L324.8 274.9 L326.6 274.3 L328.4 275.0 L330.3 275.6 L332.1 274.5 L334.0 273.3 L335.8 274.7 L337.6 276.1 L339.5 275.5 L341.3 274.9 L343.2 274.8 L345.0 274.7 L346.8 275.5 L348.7 275.7 L350.5 275.0 L352.4 274.4 L354.2 273.9 L356.0 273.5 L357.9 271.6 L359.7 269.7 L361.6 270.0 L363.4 272.7 L365.2 275.1 L367.1 277.5 L368.9 278.9 L370.8 280.0 L372.6 281.7 L374.4 283.4 L376.3 285.1 L378.1 286.9 L380.0 287.8 L381.8 287.0 L383.6 287.8 L385.5 288.6 L387.3 288.2 L389.2 287.7 L391.0 288.0 L392.8 288.5 L394.7 288.2 L396.5 287.8 L398.4 288.1 L400.2 288.5 L402.0 288.3 L403.9 288.0 L405.7 289.9 L407.6 292.0 L409.4 294.5 L411.2 297.0 L413.1 299.2 L414.9 301.4 L416.8 300.9 L418.6 298.8 L420.4 297.9 L422.3 297.1 L424.1 296.3 L426.0 295.6 L427.8 296.0 L429.6 296.3 L431.5 296.7 L433.3 297.0 L435.2 295.9 L437.0 294.7 L438.8 294.9 L440.7 295.1 L442.5 294.7 L444.4 293.9 L446.2 293.5 L448.0 293.1 L449.9 291.1 L451.7 290.1 L453.6 290.1 L455.4 290.1 L457.2 291.1 L459.1 292.2 L460.9 292.1 L462.8 292.1 L464.6 292.3 L466.4 291.9 L468.3 290.8 L470.1 289.8 L472.0 287.8 L473.8 285.8 L475.6 283.5 L477.5 281.3 L479.3 280.9 L481.2 282.1 L483.0 284.0 L484.8 285.8 L486.7 287.5 L488.5 289.1 L490.4 288.8 L492.2 287.2 L494.0 288.4 L495.9 289.6 L497.7 288.2 L499.6 286.9 L501.4 287.7 L503.2 288.6 L505.1 287.9 L506.9 286.9 L508.8 286.5 L510.6 286.1 L512.4 284.7 L514.3 283.6 L516.1 284.1 L518.0 284.6 L519.8 286.9 L521.6 289.3 L523.5 289.4 L525.3 289.5 L527.2 291.1 L529.0 292.7 L530.8 292.3 L532.7 292.1 L534.5 293.6 L536.4 295.1 L538.2 296.8 L540.0 298.4 L541.9 298.7 L543.7 299.2 L545.6 301.4 L547.4 303.5 L549.2 305.0 L551.1 304.6 L552.9 302.8 L554.8 301.0 L556.6 299.4 L558.4 298.3 L560.3 298.0 L562.1 297.8 L564.0 297.8 L565.8 297.8 L567.6 298.2 L569.5 298.5 L571.3 298.9 L573.2 299.2 L575.0 298.9 L576.8 298.5 L578.7 298.1 L580.5 299.3 L582.4 301.7 L584.2 304.8 L586.0 306.6 L587.9 308.5 L589.7 311.7 L591.6 316.0 L593.4 318.8 L595.2 321.7 L597.1 322.4 L598.9 321.9 L600.8 322.5 L602.6 323.1 L604.4 324.7 L606.3 327.3 L608.1 328.8 L610.0 330.3 L611.8 331.6 L613.6 331.7 L615.5 330.6 L617.3 329.5 L619.2 328.7 L621.0 327.9 L622.8 326.4 L624.7 326.4 L626.5 329.4 L628.4 332.3 L630.2 332.7 L632.0 330.4 L633.9 328.1 L635.7 325.9 L637.6 325.3 L639.4 325.3 L641.2 325.7 L643.1 326.1 L644.9 328.3 L646.8 329.7 L648.6 330.0 L650.4 330.2 L652.3 329.7 L654.1 329.2 L656.0 330.2 L657.8 331.2 L659.6 329.6 L661.5 327.8 L663.3 325.5 L665.2 323.2 L667.0 321.7 L668.8 320.7 L670.7 320.3 L672.5 319.8 L674.4 319.8 L676.2 317.6 L678.0 313.9 L679.9 310.2 L681.7 312.0 L683.6 314.1 L685.4 316.1 L687.2 321.4 L689.1 327.9 L690.9 332.7 L692.8 334.6 L694.6 336.4 L696.4 339.0 L698.3 338.7 L700.1 338.2 L702.0 337.7 L703.8 334.1 L705.6 330.3 L707.5 326.7 L709.3 325.1 L711.2 324.2 L713.0 323.4 L714.8 322.9 L716.7 323.7 L718.5 325.5 L720.4 327.2 L722.2 329.5 L724.0 330.5 L725.9 331.5 L727.7 332.5 L729.6 333.0 L731.4 330.1 L733.2 327.2 L735.1 324.3 L736.9 321.4 L738.8 319.8 L740.6 319.4 L742.4 319.7 L744.3 321.0 L746.1 322.3 L748.0 325.9 L749.8 332.3 L751.6 336.0 L753.5 339.3 L755.3 342.9 L757.2 346.2 L759.0 348.4 L760.8 350.6 L762.7 350.5 L764.5 347.5 L766.4 346.3 L768.2 345.4 L770.0 345.2 L771.9 345.1 L773.7 345.9 L775.6 346.7 L777.4 346.8 L779.2 348.0 L781.1 350.2 L782.9 352.3 L784.8 353.8 L786.6 354.0 L788.4 352.5 L790.3 351.5 L792.1 351.4 L794.0 351.3 L795.8 352.3 L797.6 353.3 L799.5 356.0 L801.3 359.2 L803.2 364.2 L805.0 365.2 L806.8 360.4 L808.7 355.5 L810.5 353.3 L812.4 353.2 L814.2 352.4 L816.0 351.6 L817.9 351.4 L819.7 351.1 L821.6 351.3 L823.4 351.7 L825.2 352.4 L827.1 353.1 L828.9 354.6 L830.8 354.4 L832.6 350.8 L834.4 347.2 L836.3 344.7 L838.1 343.2 L840.0 341.9 L841.8 340.6 L843.6 337.9 L845.5 336.6 L847.3 338.1 L849.2 339.6 L851.0 338.8 L852.8 338.5 L854.7 338.8 L856.5 339.2 L858.4 340.8 L860.2 342.3 L862.0 342.0 L863.9 343.7 L865.7 346.7 L867.6 349.8 L869.4 353.5 L871.2 354.8 L873.1 352.7 L874.9 350.7 L876.8 350.6 L878.6 350.6 L880.4 349.1 L882.3 347.6 L884.1 347.9 L886.0 348.1 L887.8 349.7 L889.6 351.2 L891.5 351.9 L893.3 352.6 L895.2 354.4 L897.0 356.4 L898.8 358.6 L900.7 360.8 L902.5 362.1 L904.4 361.5 L906.2 360.2 L908.0 358.8 L909.9 356.5 L911.7 354.1 L913.6 357.8 L915.4 362.4 L917.2 365.0 L919.1 366.2 L920.9 368.4 L922.8 370.5 L924.6 370.9 L926.4 370.8 L928.3 370.3 L930.1 369.8 L932.0 369.0 L933.8 368.2 L935.6 369.0 L937.5 370.0 L939.3 371.2 L941.2 372.3 L943.0 371.8 L944.8 370.1 L946.7 368.1 L948.5 365.1 L950.4 359.7 L952.2 354.9 L954.0 354.4 L955.9 353.9 L957.7 352.4 L959.6 352.2 L961.4 353.9 L963.2 355.7 L965.1 356.1 L966.9 356.3 L968.8 356.3 L970.6 356.4 L972.4 356.7 L974.3 357.3 L976.1 360.7 L978.0 364.1 L979.8 366.4 L981.6 366.8 L983.5 366.4 L985.3 366.0 L987.2 367.2 L989.0 367.4 L990.8 365.0 L992.7 362.6 L994.5 362.3 L996.4 363.4 L998.2 364.3 L1000.0 365.2 L1001.9 365.4 L1003.7 365.5 L1005.6 364.7 L1007.4 363.9 L1009.2 363.7 L1011.1 363.8 L1012.9 365.0 L1014.8 366.3 L1016.6 367.0 L1018.4 367.8 L1020.3 368.2 L1022.1 368.7 L1024.0 369.1 L1025.8 369.5 L1027.6 371.0 L1029.5 372.4 L1031.3 372.2 L1033.2 371.4 L1035.0 370.6 L1036.8 369.8 L1038.7 368.1 L1040.5 366.1 L1042.4 365.4 L1044.2 364.7 L1046.0 362.5 L1047.9 358.1 L1049.7 353.3 L1051.6 348.5 L1053.4 348.5 L1055.2 348.9 L1057.1 349.9 L1058.9 352.4 L1060.8 356.1 L1062.6 359.8 L1064.4 362.5 L1066.3 363.2 L1068.1 364.0 L1070.0 364.9 L1071.8 364.4 L1073.6 364.0 L1075.5 364.9 L1077.3 365.8 L1079.2 366.0 L1081.0 366.2 L1082.8 366.5 L1084.7 367.7 L1086.5 368.6 L1088.4 369.5 L1090.2 371.3 L1092.0 371.6 L1093.9 371.2 L1095.7 370.8 L1097.6 369.8 L1099.4 368.3 L1101.2 367.0 L1103.1 365.8 L1104.9 365.5 L1106.8 365.3 L1108.6 366.1 L1110.4 366.8 L1112.3 366.0 L1114.1 365.1 L1116.0 365.2 L1118.0 365.1 L1118.0 490.2 L1116.0 486.9 L1114.1 484.0 L1112.3 480.7 L1110.4 477.4 L1108.6 472.4 L1106.8 470.4 L1104.9 472.3 L1103.1 474.1 L1101.2 471.3 L1099.4 468.3 L1097.6 465.3 L1095.7 462.3 L1093.9 459.1 L1092.0 458.9 L1090.2 461.2 L1088.4 454.8 L1086.5 449.3 L1084.7 444.5 L1082.8 440.4 L1081.0 438.3 L1079.2 439.0 L1077.3 439.6 L1075.5 440.9 L1073.6 442.1 L1071.8 443.1 L1070.0 443.4 L1068.1 442.4 L1066.3 441.4 L1064.4 440.6 L1062.6 439.8 L1060.8 439.7 L1058.9 439.6 L1057.1 439.5 L1055.2 443.1 L1053.4 445.7 L1051.6 448.4 L1049.7 451.6 L1047.9 448.1 L1046.0 444.6 L1044.2 441.1 L1042.4 437.8 L1040.5 436.2 L1038.7 435.4 L1036.8 434.7 L1035.0 434.8 L1033.2 434.8 L1031.3 435.4 L1029.5 436.2 L1027.6 438.3 L1025.8 440.5 L1024.0 442.7 L1022.1 445.0 L1020.3 447.0 L1018.4 448.9 L1016.6 448.7 L1014.8 447.6 L1012.9 444.9 L1011.1 443.8 L1009.2 446.6 L1007.4 449.3 L1005.6 452.2 L1003.7 448.3 L1001.9 440.7 L1000.0 433.0 L998.2 431.9 L996.4 431.0 L994.5 428.2 L992.7 426.8 L990.8 428.3 L989.0 429.9 L987.2 432.2 L985.3 436.0 L983.5 437.7 L981.6 439.5 L979.8 443.8 L978.0 448.1 L976.1 446.1 L974.3 444.2 L972.4 441.7 L970.6 439.2 L968.8 440.3 L966.9 442.2 L965.1 442.0 L963.2 441.9 L961.4 443.2 L959.6 444.6 L957.7 445.6 L955.9 446.5 L954.0 447.9 L952.2 449.3 L950.4 449.7 L948.5 446.6 L946.7 444.1 L944.8 441.6 L943.0 438.2 L941.2 437.5 L939.3 440.0 L937.5 442.4 L935.6 445.7 L933.8 448.6 L932.0 446.6 L930.1 444.6 L928.3 443.6 L926.4 442.7 L924.6 444.0 L922.8 446.0 L920.9 447.0 L919.1 448.0 L917.2 447.3 L915.4 444.9 L913.6 444.6 L911.7 444.3 L909.9 442.8 L908.0 441.3 L906.2 438.4 L904.4 435.5 L902.5 434.5 L900.7 433.5 L898.8 432.1 L897.0 430.9 L895.2 429.1 L893.3 427.2 L891.5 427.5 L889.6 427.7 L887.8 425.9 L886.0 425.8 L884.1 427.7 L882.3 429.6 L880.4 429.6 L878.6 429.6 L876.8 429.5 L874.9 428.9 L873.1 427.1 L871.2 425.3 L869.4 424.8 L867.6 423.7 L865.7 422.6 L863.9 421.4 L862.0 419.2 L860.2 417.0 L858.4 416.1 L856.5 415.4 L854.7 414.4 L852.8 413.4 L851.0 409.9 L849.2 404.7 L847.3 399.9 L845.5 395.1 L843.6 392.8 L841.8 395.2 L840.0 394.9 L838.1 394.5 L836.3 395.9 L834.4 397.2 L832.6 398.7 L830.8 400.3 L828.9 400.9 L827.1 400.8 L825.2 399.9 L823.4 400.5 L821.6 403.8 L819.7 407.2 L817.9 411.5 L816.0 415.7 L814.2 418.7 L812.4 419.3 L810.5 420.1 L808.7 421.0 L806.8 422.2 L805.0 426.1 L803.2 431.9 L801.3 437.7 L799.5 444.5 L797.6 450.2 L795.8 448.7 L794.0 447.3 L792.1 446.9 L790.3 446.5 L788.4 446.4 L786.6 446.3 L784.8 445.0 L782.9 443.7 L781.1 443.8 L779.2 443.7 L777.4 442.9 L775.6 442.0 L773.7 439.4 L771.9 436.7 L770.0 435.1 L768.2 435.6 L766.4 437.3 L764.5 439.0 L762.7 439.0 L760.8 439.0 L759.0 439.6 L757.2 439.5 L755.3 437.7 L753.5 435.8 L751.6 435.2 L749.8 434.6 L748.0 435.7 L746.1 436.8 L744.3 436.6 L742.4 436.5 L740.6 436.7 L738.8 436.7 L736.9 438.2 L735.1 439.7 L733.2 438.6 L731.4 437.6 L729.6 438.7 L727.7 439.7 L725.9 437.5 L724.0 435.3 L722.2 433.7 L720.4 432.1 L718.5 431.2 L716.7 430.6 L714.8 429.9 L713.0 429.2 L711.2 429.6 L709.3 429.9 L707.5 429.4 L705.6 429.5 L703.8 430.3 L702.0 431.1 L700.1 434.5 L698.3 437.8 L696.4 438.3 L694.6 438.5 L692.8 438.6 L690.9 438.8 L689.1 436.9 L687.2 432.6 L685.4 429.0 L683.6 425.4 L681.7 420.5 L679.9 416.2 L678.0 418.9 L676.2 421.7 L674.4 426.6 L672.5 429.7 L670.7 431.3 L668.8 432.8 L667.0 434.5 L665.2 436.1 L663.3 437.9 L661.5 439.9 L659.6 441.6 L657.8 443.3 L656.0 444.8 L654.1 440.8 L652.3 436.5 L650.4 432.2 L648.6 430.2 L646.8 428.7 L644.9 428.7 L643.1 428.7 L641.2 425.4 L639.4 419.7 L637.6 412.6 L635.7 406.6 L633.9 408.3 L632.0 409.9 L630.2 411.5 L628.4 413.2 L626.5 415.2 L624.7 417.3 L622.8 418.7 L621.0 420.2 L619.2 420.0 L617.3 418.9 L615.5 419.0 L613.6 419.2 L611.8 418.9 L610.0 418.6 L608.1 418.6 L606.3 418.6 L604.4 421.1 L602.6 423.6 L600.8 419.6 L598.9 413.9 L597.1 409.9 L595.2 408.9 L593.4 412.7 L591.6 416.5 L589.7 418.3 L587.9 416.9 L586.0 416.3 L584.2 415.7 L582.4 414.6 L580.5 415.0 L578.7 416.8 L576.8 418.6 L575.0 419.2 L573.2 417.5 L571.3 413.5 L569.5 411.5 L567.6 416.3 L565.8 419.7 L564.0 410.6 L562.1 401.6 L560.3 393.4 L558.4 389.3 L556.6 386.5 L554.8 383.6 L552.9 381.1 L551.1 381.1 L549.2 382.6 L547.4 384.1 L545.6 386.5 L543.7 388.3 L541.9 384.6 L540.0 380.9 L538.2 379.0 L536.4 370.0 L534.5 360.1 L532.7 350.3 L530.8 348.9 L529.0 352.6 L527.2 354.7 L525.3 356.8 L523.5 359.7 L521.6 358.8 L519.8 356.2 L518.0 353.8 L516.1 353.9 L514.3 354.1 L512.4 357.4 L510.6 361.1 L508.8 362.1 L506.9 363.0 L505.1 366.4 L503.2 367.7 L501.4 363.3 L499.6 359.7 L497.7 360.3 L495.9 361.0 L494.0 360.1 L492.2 359.3 L490.4 357.7 L488.5 357.2 L486.7 358.5 L484.8 359.8 L483.0 362.0 L481.2 362.7 L479.3 359.7 L477.5 356.7 L475.6 354.0 L473.8 351.9 L472.0 354.5 L470.1 357.2 L468.3 361.9 L466.4 367.5 L464.6 369.9 L462.8 372.4 L460.9 377.2 L459.1 381.9 L457.2 386.2 L455.4 390.6 L453.6 395.0 L451.7 398.4 L449.9 394.4 L448.0 390.4 L446.2 387.5 L444.4 384.7 L442.5 386.8 L440.7 390.0 L438.8 392.0 L437.0 394.0 L435.2 394.3 L433.3 391.1 L431.5 387.0 L429.6 383.0 L427.8 379.2 L426.0 378.1 L424.1 378.3 L422.3 378.4 L420.4 372.4 L418.6 365.5 L416.8 358.0 L414.9 350.3 L413.1 343.4 L411.2 339.7 L409.4 339.9 L407.6 340.2 L405.7 342.0 L403.9 343.5 L402.0 336.8 L400.2 330.1 L398.4 326.6 L396.5 323.4 L394.7 320.8 L392.8 318.2 L391.0 315.6 L389.2 315.2 L387.3 317.1 L385.5 319.5 L383.6 322.2 L381.8 324.8 L380.0 326.4 L378.1 328.0 L376.3 328.7 L374.4 329.6 L372.6 331.7 L370.8 333.8 L368.9 333.7 L367.1 333.5 L365.2 335.2 L363.4 334.9 L361.6 333.0 L359.7 331.0 L357.9 327.4 L356.0 317.4 L354.2 310.4 L352.4 303.4 L350.5 300.4 L348.7 299.0 L346.8 297.3 L345.0 298.1 L343.2 297.9 L341.3 300.0 L339.5 305.1 L337.6 310.3 L335.8 315.1 L334.0 319.8 L332.1 315.1 L330.3 310.4 L328.4 309.5 L326.6 309.4 L324.8 309.5 L322.9 309.5 L321.1 310.1 L319.2 310.7 L317.4 311.2 L315.6 310.6 L313.7 309.3 L311.9 308.1 L310.0 308.3 L308.2 307.9 L306.4 306.0 L304.5 304.1 L302.7 302.0 L300.8 299.8 L299.0 298.6 L297.2 297.7 L295.3 298.2 L293.5 298.7 L291.6 297.9 L289.8 298.7 L288.0 300.2 L286.1 296.5 L284.3 293.3 L282.4 290.8 L280.6 289.1 L278.8 289.5 L276.9 291.0 L275.1 292.6 L273.2 292.1 L271.4 291.5 L269.6 292.2 L267.7 291.0 L265.9 289.3 L264.0 287.6 L262.2 286.4 L260.4 286.5 L258.5 286.8 L256.7 287.2 L254.8 288.4 L253.0 289.6 L251.2 289.7 L249.3 291.2 L247.5 294.0 L245.6 295.8 L243.8 292.1 L242.0 288.4 L240.1 285.5 L238.3 282.7 L236.4 280.6 L234.6 280.4 L232.8 279.7 L230.9 278.9 L229.1 277.4 L227.2 275.8 L225.4 275.3 L223.6 274.4 L221.7 273.9 L219.9 273.3 L218.0 270.9 L216.2 268.5 L214.4 268.1 L212.5 267.7 L210.7 267.8 L208.8 268.5 L207.0 269.2 L205.2 270.0 L203.3 270.8 L201.5 270.6 L199.6 270.5 L197.8 270.4 L196.0 268.4 L194.1 266.4 L192.3 264.7 L190.4 262.8 L188.6 258.9 L186.8 255.1 L184.9 250.1 L183.1 245.1 L181.2 242.6 L179.4 239.5 L177.6 233.8 L175.7 228.3 L173.9 224.9 L172.0 220.1Z" fill="#95bdd9"/>
<path d="M172.0 220.1 L173.9 220.1 L175.7 222.0 L177.6 223.4 L179.4 224.4 L181.2 225.6 L183.1 227.0 L184.9 229.2 L186.8 231.5 L188.6 232.8 L190.4 234.0 L192.3 235.5 L194.1 236.9 L196.0 239.1 L197.8 240.9 L199.6 242.4 L201.5 243.5 L203.3 244.5 L205.2 245.5 L207.0 246.8 L208.8 247.9 L210.7 248.8 L212.5 249.7 L214.4 251.3 L216.2 253.0 L218.0 254.6 L219.9 256.3 L221.7 257.6 L223.6 258.9 L225.4 260.0 L227.2 259.2 L229.1 258.7 L230.9 258.2 L232.8 261.2 L234.6 264.5 L236.4 266.1 L238.3 264.4 L240.1 262.2 L242.0 260.0 L243.8 259.4 L245.6 259.8 L247.5 260.4 L249.3 260.9 L251.2 261.1 L253.0 262.2 L254.8 264.3 L256.7 266.4 L258.5 266.9 L260.4 267.4 L262.2 269.5 L264.0 271.1 L265.9 272.4 L267.7 273.8 L269.6 274.4 L271.4 274.0 L273.2 274.4 L275.1 274.6 L276.9 273.9 L278.8 274.3 L280.6 277.8 L282.4 281.2 L284.3 284.3 L286.1 287.3 L288.0 290.3 L289.8 288.2 L291.6 285.9 L293.5 283.6 L295.3 281.3 L297.2 278.6 L299.0 277.9 L300.8 277.8 L302.7 277.4 L304.5 276.3 L306.4 279.2 L308.2 283.0 L310.0 286.0 L311.9 288.9 L313.7 291.8 L315.6 294.6 L317.4 294.0 L319.2 292.2 L321.1 290.4 L322.9 292.2 L324.8 292.1 L326.6 289.7 L328.4 287.7 L330.3 285.7 L332.1 283.3 L334.0 280.8 L335.8 281.8 L337.6 283.0 L339.5 283.7 L341.3 284.5 L343.2 285.1 L345.0 283.9 L346.8 281.8 L348.7 279.8 L350.5 278.3 L352.4 278.1 L354.2 277.0 L356.0 275.9 L357.9 276.1 L359.7 276.2 L361.6 276.3 L363.4 276.6 L365.2 277.2 L367.1 279.4 L368.9 283.2 L370.8 287.0 L372.6 290.5 L374.4 294.0 L376.3 295.5 L378.1 296.1 L380.0 296.9 L381.8 297.6 L383.6 297.1 L385.5 296.5 L387.3 300.2 L389.2 305.4 L391.0 306.2 L392.8 303.5 L394.7 302.6 L396.5 304.1 L398.4 304.0 L400.2 303.4 L402.0 302.7 L403.9 302.0 L405.7 303.1 L407.6 303.8 L409.4 304.5 L411.2 305.1 L413.1 307.9 L414.9 310.9 L416.8 313.3 L418.6 314.3 L420.4 312.3 L422.3 310.3 L424.1 308.7 L426.0 307.6 L427.8 307.4 L429.6 307.2 L431.5 306.2 L433.3 306.7 L435.2 314.1 L437.0 321.6 L438.8 318.3 L440.7 315.0 L442.5 311.7 L444.4 309.1 L446.2 308.3 L448.0 307.6 L449.9 307.7 L451.7 307.9 L453.6 307.4 L455.4 304.8 L457.2 302.3 L459.1 299.9 L460.9 299.8 L462.8 299.8 L464.6 298.9 L466.4 298.0 L468.3 298.1 L470.1 300.1 L472.0 303.6 L473.8 307.1 L475.6 310.0 L477.5 310.6 L479.3 310.8 L481.2 310.3 L483.0 302.8 L484.8 295.3 L486.7 295.3 L488.5 296.0 L490.4 296.8 L492.2 297.3 L494.0 297.6 L495.9 297.8 L497.7 304.5 L499.6 311.6 L501.4 318.2 L503.2 323.2 L505.1 319.0 L506.9 314.8 L508.8 309.9 L510.6 306.5 L512.4 306.3 L514.3 306.2 L516.1 306.0 L518.0 305.4 L519.8 304.9 L521.6 304.2 L523.5 304.8 L525.3 307.6 L527.2 310.2 L529.0 312.4 L530.8 315.1 L532.7 317.7 L534.5 320.0 L536.4 321.5 L538.2 319.2 L540.0 317.0 L541.9 314.4 L543.7 311.8 L545.6 311.5 L547.4 311.4 L549.2 315.9 L551.1 323.1 L552.9 328.1 L554.8 330.9 L556.6 334.1 L558.4 331.8 L560.3 329.0 L562.1 325.0 L564.0 321.6 L565.8 316.5 L567.6 310.8 L569.5 307.5 L571.3 305.0 L573.2 302.5 L575.0 300.9 L576.8 299.7 L578.7 298.6 L580.5 299.8 L582.4 302.2 L584.2 306.9 L586.0 312.0 L587.9 320.7 L589.7 328.9 L591.6 334.8 L593.4 340.2 L595.2 342.0 L597.1 342.6 L598.9 343.1 L600.8 342.9 L602.6 342.9 L604.4 343.8 L606.3 344.7 L608.1 345.8 L610.0 347.0 L611.8 347.6 L613.6 348.2 L615.5 349.6 L617.3 351.0 L619.2 352.1 L621.0 350.7 L622.8 346.9 L624.7 343.1 L626.5 339.5 L628.4 336.7 L630.2 336.2 L632.0 335.8 L633.9 336.3 L635.7 336.8 L637.6 338.2 L639.4 339.7 L641.2 340.7 L643.1 341.8 L644.9 342.7 L646.8 343.0 L648.6 342.5 L650.4 342.1 L652.3 341.4 L654.1 340.6 L656.0 340.1 L657.8 339.7 L659.6 338.9 L661.5 338.0 L663.3 338.0 L665.2 338.0 L667.0 336.5 L668.8 334.9 L670.7 334.3 L672.5 333.7 L674.4 332.2 L676.2 332.3 L678.0 333.9 L679.9 335.4 L681.7 336.1 L683.6 333.7 L685.4 330.6 L687.2 330.9 L689.1 333.9 L690.9 336.8 L692.8 340.2 L694.6 344.8 L696.4 348.0 L698.3 346.6 L700.1 345.2 L702.0 343.8 L703.8 342.4 L705.6 342.4 L707.5 342.7 L709.3 343.0 L711.2 342.8 L713.0 342.7 L714.8 343.0 L716.7 342.9 L718.5 342.0 L720.4 341.1 L722.2 340.3 L724.0 339.6 L725.9 338.8 L727.7 338.0 L729.6 336.0 L731.4 334.1 L733.2 334.7 L735.1 336.2 L736.9 337.8 L738.8 339.4 L740.6 340.8 L742.4 341.9 L744.3 342.7 L746.1 343.4 L748.0 344.3 L749.8 345.1 L751.6 347.3 L753.5 349.6 L755.3 351.5 L757.2 353.3 L759.0 355.3 L760.8 355.3 L762.7 352.5 L764.5 349.8 L766.4 347.9 L768.2 348.7 L770.0 350.5 L771.9 352.3 L773.7 354.2 L775.6 355.7 L777.4 357.0 L779.2 358.3 L781.1 359.7 L782.9 360.7 L784.8 361.6 L786.6 362.4 L788.4 363.5 L790.3 364.6 L792.1 364.6 L794.0 364.6 L795.8 365.4 L797.6 366.2 L799.5 367.4 L801.3 368.7 L803.2 369.9 L805.0 368.1 L806.8 363.3 L808.7 358.5 L810.5 355.8 L812.4 356.9 L814.2 358.3 L816.0 359.7 L817.9 360.5 L819.7 361.1 L821.6 361.4 L823.4 361.5 L825.2 362.6 L827.1 363.6 L828.9 364.5 L830.8 365.2 L832.6 365.7 L834.4 366.2 L836.3 365.9 L838.1 363.2 L840.0 360.4 L841.8 357.6 L843.6 356.2 L845.5 354.9 L847.3 353.4 L849.2 351.9 L851.0 351.0 L852.8 350.4 L854.7 349.6 L856.5 348.9 L858.4 349.2 L860.2 351.8 L862.0 353.9 L863.9 355.9 L865.7 357.8 L867.6 359.5 L869.4 361.7 L871.2 363.8 L873.1 365.1 L874.9 364.9 L876.8 363.8 L878.6 362.8 L880.4 362.0 L882.3 361.2 L884.1 360.0 L886.0 358.7 L887.8 357.2 L889.6 355.6 L891.5 356.5 L893.3 357.8 L895.2 358.1 L897.0 360.5 L898.8 364.8 L900.7 369.1 L902.5 372.5 L904.4 374.2 L906.2 376.2 L908.0 378.2 L909.9 379.6 L911.7 378.2 L913.6 377.1 L915.4 376.1 L917.2 376.8 L919.1 378.3 L920.9 379.5 L922.8 380.9 L924.6 382.7 L926.4 384.5 L928.3 385.8 L930.1 386.0 L932.0 386.8 L933.8 387.6 L935.6 390.7 L937.5 394.0 L939.3 396.7 L941.2 399.4 L943.0 400.1 L944.8 399.1 L946.7 393.1 L948.5 379.7 L950.4 368.8 L952.2 366.4 L954.0 364.0 L955.9 361.7 L957.7 364.3 L959.6 367.3 L961.4 369.2 L963.2 370.5 L965.1 371.9 L966.9 373.3 L968.8 374.7 L970.6 375.2 L972.4 374.2 L974.3 373.2 L976.1 371.6 L978.0 370.1 L979.8 373.9 L981.6 377.9 L983.5 376.5 L985.3 374.0 L987.2 372.1 L989.0 370.3 L990.8 369.4 L992.7 368.8 L994.5 367.0 L996.4 365.6 L998.2 367.0 L1000.0 368.4 L1001.9 372.8 L1003.7 377.1 L1005.6 379.8 L1007.4 379.5 L1009.2 379.6 L1011.1 379.2 L1012.9 379.0 L1014.8 378.8 L1016.6 377.6 L1018.4 376.3 L1020.3 376.5 L1022.1 377.2 L1024.0 378.5 L1025.8 379.8 L1027.6 382.0 L1029.5 384.2 L1031.3 386.7 L1033.2 389.2 L1035.0 390.8 L1036.8 392.3 L1038.7 392.6 L1040.5 392.8 L1042.4 390.5 L1044.2 385.8 L1046.0 386.2 L1047.9 390.6 L1049.7 395.4 L1051.6 398.1 L1053.4 400.7 L1055.2 403.3 L1057.1 405.4 L1058.9 406.2 L1060.8 406.2 L1062.6 406.2 L1064.4 404.0 L1066.3 401.1 L1068.1 398.1 L1070.0 395.2 L1071.8 394.0 L1073.6 392.8 L1075.5 391.3 L1077.3 388.5 L1079.2 385.3 L1081.0 386.5 L1082.8 391.7 L1084.7 396.9 L1086.5 399.3 L1088.4 401.1 L1090.2 402.5 L1092.0 404.1 L1093.9 406.3 L1095.7 408.4 L1097.6 411.4 L1099.4 412.9 L1101.2 412.8 L1103.1 409.0 L1104.9 406.1 L1106.8 410.7 L1108.6 413.9 L1110.4 414.9 L1112.3 415.5 L1114.1 416.2 L1116.0 417.2 L1118.0 418.3 L1118.0 440.0 L1116.0 431.8 L1114.1 426.2 L1112.3 424.5 L1110.4 422.9 L1108.6 420.7 L1106.8 421.1 L1104.9 423.4 L1103.1 425.8 L1101.2 427.6 L1099.4 430.2 L1097.6 433.7 L1095.7 436.1 L1093.9 437.1 L1092.0 438.2 L1090.2 439.2 L1088.4 440.0 L1086.5 440.2 L1084.7 437.3 L1082.8 434.7 L1081.0 432.2 L1079.2 430.6 L1077.3 430.8 L1075.5 431.7 L1073.6 432.6 L1071.8 432.1 L1070.0 431.1 L1068.1 430.6 L1066.3 430.2 L1064.4 429.9 L1062.6 429.7 L1060.8 428.7 L1058.9 427.8 L1057.1 427.8 L1055.2 423.6 L1053.4 418.1 L1051.6 413.2 L1049.7 414.8 L1047.9 416.4 L1046.0 418.4 L1044.2 419.8 L1042.4 420.5 L1040.5 421.1 L1038.7 422.9 L1036.8 424.9 L1035.0 427.0 L1033.2 428.1 L1031.3 428.3 L1029.5 428.6 L1027.6 429.6 L1025.8 429.9 L1024.0 429.6 L1022.1 429.3 L1020.3 431.0 L1018.4 433.2 L1016.6 435.7 L1014.8 438.2 L1012.9 440.3 L1011.1 439.3 L1009.2 438.0 L1007.4 436.6 L1005.6 435.0 L1003.7 430.4 L1001.9 425.6 L1000.0 420.8 L998.2 419.9 L996.4 419.2 L994.5 418.0 L992.7 417.6 L990.8 418.5 L989.0 419.3 L987.2 419.4 L985.3 419.6 L983.5 420.3 L981.6 421.0 L979.8 421.7 L978.0 422.3 L976.1 420.8 L974.3 419.2 L972.4 417.5 L970.6 415.8 L968.8 416.8 L966.9 418.8 L965.1 421.2 L963.2 423.6 L961.4 424.8 L959.6 426.4 L957.7 428.7 L955.9 431.0 L954.0 433.7 L952.2 433.7 L950.4 432.9 L948.5 432.2 L946.7 431.6 L944.8 429.5 L943.0 426.9 L941.2 424.3 L939.3 422.0 L937.5 420.7 L935.6 421.6 L933.8 422.6 L932.0 423.6 L930.1 424.6 L928.3 425.3 L926.4 426.0 L924.6 426.6 L922.8 427.2 L920.9 429.6 L919.1 432.9 L917.2 435.8 L915.4 436.8 L913.6 434.5 L911.7 432.2 L909.9 429.9 L908.0 428.6 L906.2 427.3 L904.4 426.0 L902.5 424.5 L900.7 423.4 L898.8 422.5 L897.0 421.6 L895.2 421.0 L893.3 420.9 L891.5 421.1 L889.6 421.4 L887.8 421.7 L886.0 422.0 L884.1 421.6 L882.3 421.2 L880.4 420.6 L878.6 420.0 L876.8 418.8 L874.9 417.1 L873.1 415.0 L871.2 412.9 L869.4 411.5 L867.6 410.8 L865.7 409.9 L863.9 409.1 L862.0 408.6 L860.2 408.1 L858.4 407.2 L856.5 406.2 L854.7 405.4 L852.8 404.6 L851.0 401.2 L849.2 396.0 L847.3 391.7 L845.5 389.0 L843.6 389.2 L841.8 389.4 L840.0 390.8 L838.1 392.2 L836.3 393.6 L834.4 394.9 L832.6 397.4 L830.8 399.8 L828.9 399.8 L827.1 398.6 L825.2 397.0 L823.4 397.1 L821.6 401.0 L819.7 405.0 L817.9 409.8 L816.0 414.6 L814.2 414.9 L812.4 415.0 L810.5 415.4 L808.7 415.7 L806.8 418.9 L805.0 423.7 L803.2 428.4 L801.3 432.6 L799.5 436.3 L797.6 440.1 L795.8 443.4 L794.0 441.8 L792.1 439.9 L790.3 438.1 L788.4 436.7 L786.6 435.4 L784.8 433.8 L782.9 432.2 L781.1 430.5 L779.2 429.0 L777.4 428.4 L775.6 427.9 L773.7 426.9 L771.9 425.9 L770.0 424.6 L768.2 420.8 L766.4 416.6 L764.5 412.4 L762.7 409.4 L760.8 407.8 L759.0 406.5 L757.2 405.1 L755.3 403.2 L753.5 401.2 L751.6 399.9 L749.8 398.5 L748.0 396.7 L746.1 394.9 L744.3 396.7 L742.4 398.8 L740.6 402.1 L738.8 405.4 L736.9 408.1 L735.1 407.7 L733.2 403.9 L731.4 400.2 L729.6 403.9 L727.7 409.5 L725.9 414.5 L724.0 417.5 L722.2 420.6 L720.4 423.8 L718.5 422.2 L716.7 419.7 L714.8 417.9 L713.0 416.1 L711.2 413.6 L709.3 411.6 L707.5 410.4 L705.6 409.2 L703.8 408.9 L702.0 408.8 L700.1 412.3 L698.3 415.9 L696.4 420.2 L694.6 420.8 L692.8 407.8 L690.9 394.9 L689.1 380.8 L687.2 382.1 L685.4 385.3 L683.6 388.6 L681.7 390.8 L679.9 392.1 L678.0 393.7 L676.2 395.3 L674.4 397.0 L672.5 394.5 L670.7 391.2 L668.8 388.0 L667.0 383.9 L665.2 379.9 L663.3 377.8 L661.5 377.4 L659.6 375.8 L657.8 374.1 L656.0 373.3 L654.1 368.5 L652.3 363.9 L650.4 359.4 L648.6 358.0 L646.8 358.7 L644.9 358.7 L643.1 359.5 L641.2 359.4 L639.4 359.4 L637.6 363.9 L635.7 380.1 L633.9 394.5 L632.0 395.3 L630.2 396.7 L628.4 398.0 L626.5 396.3 L624.7 393.8 L622.8 391.3 L621.0 388.8 L619.2 385.7 L617.3 382.2 L615.5 379.2 L613.6 376.1 L611.8 372.7 L610.0 369.4 L608.1 369.4 L606.3 369.5 L604.4 368.9 L602.6 368.3 L600.8 367.7 L598.9 369.7 L597.1 374.3 L595.2 379.0 L593.4 382.8 L591.6 384.3 L589.7 378.4 L587.9 368.4 L586.0 357.3 L584.2 346.3 L582.4 349.9 L580.5 355.1 L578.7 360.5 L576.8 360.9 L575.0 358.1 L573.2 355.2 L571.3 352.4 L569.5 351.3 L567.6 354.3 L565.8 357.3 L564.0 360.1 L562.1 359.7 L560.3 356.5 L558.4 353.3 L556.6 349.7 L554.8 349.8 L552.9 351.6 L551.1 353.4 L549.2 355.1 L547.4 355.5 L545.6 353.3 L543.7 351.1 L541.9 348.5 L540.0 345.9 L538.2 344.7 L536.4 343.6 L534.5 341.7 L532.7 339.8 L530.8 337.7 L529.0 334.7 L527.2 330.7 L525.3 326.7 L523.5 324.4 L521.6 325.6 L519.8 326.8 L518.0 327.9 L516.1 327.3 L514.3 326.6 L512.4 326.0 L510.6 325.5 L508.8 330.7 L506.9 338.4 L505.1 344.8 L503.2 347.8 L501.4 347.1 L499.6 346.3 L497.7 345.1 L495.9 343.8 L494.0 343.2 L492.2 342.6 L490.4 341.1 L488.5 339.5 L486.7 335.1 L484.8 329.1 L483.0 326.7 L481.2 327.6 L479.3 328.1 L477.5 328.6 L475.6 328.8 L473.8 326.2 L472.0 323.7 L470.1 321.2 L468.3 318.7 L466.4 316.1 L464.6 317.6 L462.8 320.2 L460.9 322.5 L459.1 324.8 L457.2 326.9 L455.4 328.4 L453.6 330.0 L451.7 331.5 L449.9 333.1 L448.0 334.6 L446.2 333.6 L444.4 332.6 L442.5 331.8 L440.7 331.0 L438.8 330.6 L437.0 331.1 L435.2 331.7 L433.3 332.2 L431.5 333.0 L429.6 333.3 L427.8 331.7 L426.0 330.0 L424.1 328.9 L422.3 327.8 L420.4 326.2 L418.6 324.3 L416.8 322.5 L414.9 320.7 L413.1 320.0 L411.2 320.6 L409.4 321.0 L407.6 321.4 L405.7 321.7 L403.9 321.0 L402.0 320.5 L400.2 319.9 L398.4 313.1 L396.5 314.0 L394.7 311.7 L392.8 311.9 L391.0 315.1 L389.2 314.7 L387.3 310.0 L385.5 306.8 L383.6 307.8 L381.8 308.7 L380.0 308.1 L378.1 307.6 L376.3 307.0 L374.4 305.6 L372.6 302.9 L370.8 300.1 L368.9 297.2 L367.1 294.2 L365.2 291.8 L363.4 290.9 L361.6 290.6 L359.7 290.3 L357.9 290.4 L356.0 290.4 L354.2 290.8 L352.4 291.1 L350.5 291.2 L348.7 292.7 L346.8 295.2 L345.0 297.6 L343.2 297.4 L341.3 295.3 L339.5 293.9 L337.6 292.6 L335.8 291.7 L334.0 290.9 L332.1 292.6 L330.3 294.3 L328.4 296.0 L326.6 297.6 L324.8 299.7 L322.9 299.6 L321.1 298.3 L319.2 300.6 L317.4 302.1 L315.6 302.4 L313.7 299.8 L311.9 297.1 L310.0 294.5 L308.2 291.8 L306.4 288.5 L304.5 286.1 L302.7 287.0 L300.8 287.7 L299.0 287.7 L297.2 288.5 L295.3 290.8 L293.5 293.1 L291.6 295.7 L289.8 298.2 L288.0 299.7 L286.1 296.0 L284.3 292.6 L282.4 289.2 L280.6 285.9 L278.8 282.6 L276.9 281.9 L275.1 282.7 L273.2 282.1 L271.4 281.6 L269.6 282.3 L267.7 282.1 L265.9 280.2 L264.0 278.4 L262.2 277.7 L260.4 276.6 L258.5 274.4 L256.7 272.1 L254.8 270.8 L253.0 269.6 L251.2 268.5 L249.3 268.2 L247.5 268.3 L245.6 268.5 L243.8 268.7 L242.0 269.9 L240.1 271.5 L238.3 273.2 L236.4 275.1 L234.6 273.7 L232.8 271.0 L230.9 268.5 L229.1 269.5 L227.2 270.5 L225.4 271.1 L223.6 269.9 L221.7 267.8 L219.9 265.7 L218.0 264.6 L216.2 263.5 L214.4 261.4 L212.5 259.2 L210.7 257.2 L208.8 255.2 L207.0 253.2 L205.2 251.5 L203.3 250.1 L201.5 248.7 L199.6 248.0 L197.8 247.0 L196.0 244.8 L194.1 242.4 L192.3 240.7 L190.4 239.0 L188.6 237.4 L186.8 235.7 L184.9 234.1 L183.1 232.4 L181.2 230.8 L179.4 229.2 L177.6 227.6 L175.7 226.0 L173.9 224.4 L172.0 220.1Z" fill="#6da2c6"/>
<g stroke="#5f676f" stroke-opacity="0.09" stroke-width="1.7" fill="none"><line x1="117" x2="1167" y1="210.4" y2="210.4"/><line x1="117" x2="1167" y1="266.7" y2="266.7"/><line x1="117" x2="1167" y1="323.1" y2="323.1"/><line x1="117" x2="1167" y1="379.4" y2="379.4"/><line x1="117" x2="1167" y1="435.7" y2="435.7"/><line x1="117" x2="1167" y1="492.0" y2="492.0"/><line x1="117" x2="1167" y1="548.4" y2="548.4"/><line x1="160.4" x2="160.4" y1="192" y2="593"/><line x1="344.7" x2="344.7" y1="192" y2="593"/><line x1="529.0" x2="529.0" y1="192" y2="593"/><line x1="713.3" x2="713.3" y1="192" y2="593"/><line x1="897.6" x2="897.6" y1="192" y2="593"/><line x1="1081.9" x2="1081.9" y1="192" y2="593"/></g>
<path d="M171.5 219.5 L174.0 222.5 L186.0 233.0 L197.0 243.0 L206.0 248.0 L218.0 258.0 L226.0 265.0 L231.0 262.0 L236.0 270.0 L243.0 264.0 L252.0 265.0 L262.0 274.0 L269.0 278.0 L278.0 276.0 L288.0 292.4 L298.0 280.0 L305.0 279.6 L316.0 298.0 L321.0 293.0 L324.0 296.0 L334.0 285.0 L344.0 291.0 L350.0 283.0 L360.0 280.0 L366.0 282.0 L375.0 298.0 L382.0 300.0 L386.0 299.0 L390.0 310.0 L394.0 304.0 L396.0 307.0 L404.0 304.0 L412.0 309.0 L418.0 317.0 L423.0 312.0 L433.0 309.0 L437.0 326.0 L444.0 313.0 L454.0 312.0 L459.0 304.0 L469.0 303.0 L476.0 314.0 L481.0 314.0 L485.0 298.0 L496.0 300.0 L503.0 327.0 L510.0 309.0 L516.0 308.0 L523.0 306.0 L530.0 317.0 L536.0 325.0 L544.0 315.0 L548.0 314.0 L552.0 331.0 L558.0 342.0 L565.0 328.0 L572.0 335.0 L581.0 337.0 L587.0 348.0 L588.0 352.0 L595.0 365.0 L600.0 360.0 L607.0 359.0 L611.0 364.0 L615.0 375.0 L621.0 375.0 L625.0 367.0 L629.0 369.0 L634.0 362.0 L640.0 347.0 L647.0 357.0 L654.0 346.0 L660.0 353.0 L665.0 355.0 L669.0 363.0 L676.0 351.0 L680.0 354.0 L687.0 345.0 L691.0 364.0 L698.0 375.0 L704.0 371.0 L710.0 365.0 L716.0 367.0 L720.0 361.0 L726.0 376.0 L734.0 383.0 L739.0 378.0 L744.0 384.0 L751.0 389.0 L757.0 387.0 L761.0 391.0 L768.0 382.0 L774.0 389.0 L780.0 393.0 L783.0 400.0 L787.0 394.0 L791.0 400.0 L794.0 409.0 L798.0 412.0 L802.0 400.0 L805.0 380.0 L809.6 372.0 L813.0 379.0 L817.0 365.0 L823.0 363.0 L830.0 372.0 L835.0 380.0 L839.0 388.0 L843.0 378.0 L849.0 372.0 L856.0 372.0 L860.4 362.0 L864.4 368.0 L869.0 367.0 L873.0 376.0 L875.6 388.0 L882.0 382.0 L888.0 379.0 L892.0 362.0 L895.0 360.0 L899.0 374.0 L904.0 384.0 L909.0 410.0 L912.4 400.0 L915.6 406.0 L919.6 398.0 L923.0 402.0 L927.0 401.0 L931.0 388.0 L934.4 414.0 L942.0 410.0 L948.0 418.0 L953.0 425.0 L960.0 410.0 L964.0 411.0 L970.0 398.0 L976.0 394.0 L980.0 396.0 L988.0 407.0 L992.0 408.0 L997.0 405.0 L1002.0 416.0 L1008.0 422.0 L1015.0 424.0 L1022.0 406.0 L1026.0 408.0 L1030.0 405.0 L1033.3 405.8 L1038.3 413.3 L1043.3 409.0 L1048.3 411.7 L1052.5 404.0 L1056.7 411.7 L1060.8 424.0 L1066.7 414.0 L1076.7 413.3 L1081.7 418.3 L1089.0 433.3 L1094.0 424.0 L1100.0 421.7 L1107.5 415.0 L1113.3 421.7 L1119.0 439.0" fill="none" stroke="#357aad" stroke-width="5.1" stroke-linejoin="round" stroke-linecap="butt"/>
<path d="M166.6 211.4 L168.6 212.6 L170.5 216.0 L172.0 221.5 L173.0 230.0 L173.6 240.0 L176.0 258.0 L179.0 291.0 L181.0 296.0 L183.5 300.0 L185.0 318.0 L186.6 334.0 L188.7 346.0 L190.8 353.0 L192.5 330.0 L194.0 309.0 L195.5 312.0 L196.8 320.0 L198.5 337.0 L200.0 318.0 L201.3 295.0 L203.0 298.0 L204.5 308.0 L206.5 330.0 L208.5 345.0 L210.0 375.0 L212.3 423.0 L214.5 400.0 L216.5 377.0 L218.0 392.0 L219.5 410.0 L222.0 462.0 L224.2 508.5" fill="none" stroke="#d52c21" stroke-width="6.0" stroke-linejoin="round" stroke-linecap="round"/>
<rect x="117" y="593" width="1050" height="2.2" fill="#a3a3a3"/>
</g>
</svg>
<div class="abs ax" style="left:118px;top:147.7px;font-size:38px;font-style:italic;letter-spacing:0.45px;">S&amp;P 500 (Peak = 100)</div>
<div class="abs ax yl" style="top:194.4px;">100</div>
<div class="abs ax yl" style="top:307.2px;">90</div>
<div class="abs ax yl" style="top:419.0px;">80</div>
<div class="abs ax yl" style="top:532.0px;">70</div>
<div class="abs ax" style="left:151px;top:610.3px;">0</div>
<div class="abs ax" style="left:501.3px;top:610.3px;">100</div>
<div class="abs ax" style="left:868.8px;top:610.3px;">200</div>
<div class="abs ax" style="left:424.5px;top:645.6px;font-size:34.5px;font-style:italic;letter-spacing:0.05px;">Business Days From Peak</div>
<div class="abs ft" style="top:699.5px;">Source: Bloomberg, Morgan Stanley Research; Note: Shows summary of bear market episodes. Each band represents observation decile starting at 10% to 90%,</div>
<div class="abs ft" style="top:723.2px;letter-spacing:0.135px;">solid line is median. Red line is current sell-off. Data since 1927, or whenever history begins.</div>
<div id="bottom"></div>
</body></html>
